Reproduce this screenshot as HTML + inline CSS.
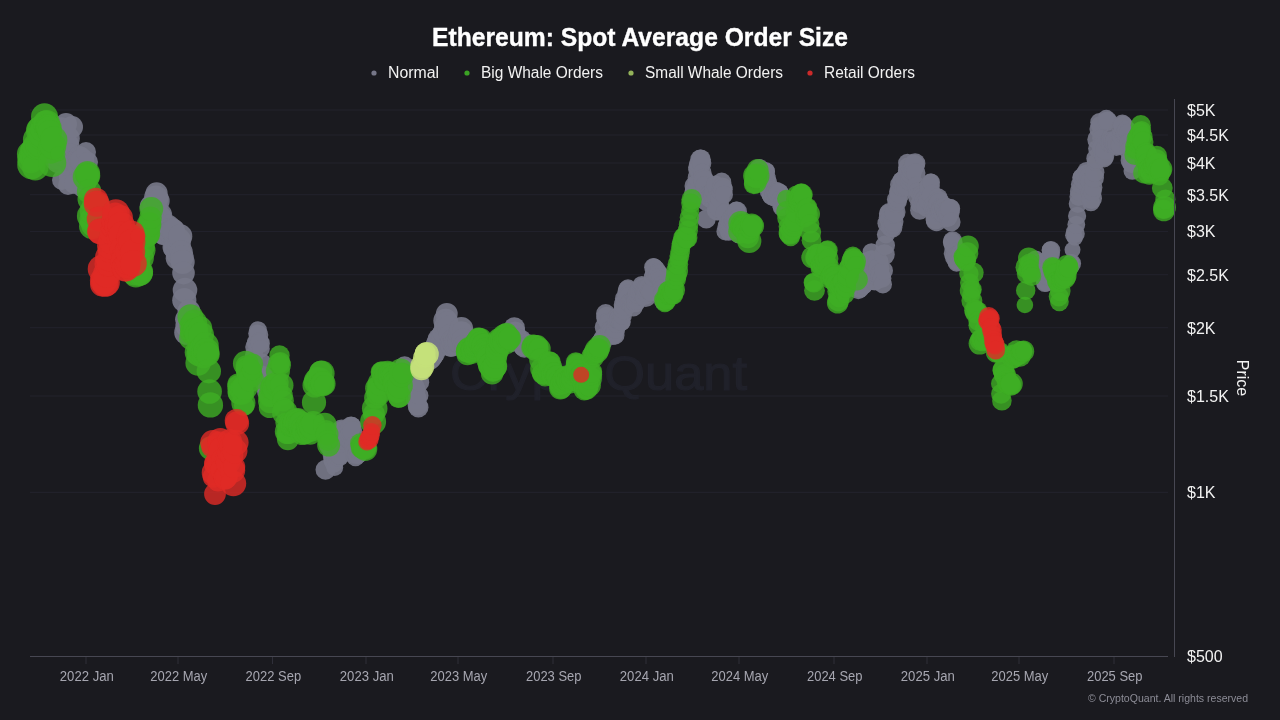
<!DOCTYPE html><html><head><meta charset="utf-8"><title>Ethereum: Spot Average Order Size</title>
<style>html,body{margin:0;padding:0;background:#1a1a1f;width:1280px;height:720px;overflow:hidden}svg{display:block}text{font-family:"Liberation Sans",sans-serif}</style></head><body>
<svg width="1280" height="720" viewBox="0 0 1280 720">
<rect width="1280" height="720" fill="#1a1a1f"/>
<line x1="30" x2="1168" y1="110.0" y2="110.0" stroke="#23232d" stroke-width="1"/>
<line x1="30" x2="1168" y1="135.0" y2="135.0" stroke="#23232d" stroke-width="1"/>
<line x1="30" x2="1168" y1="163.0" y2="163.0" stroke="#23232d" stroke-width="1"/>
<line x1="30" x2="1168" y1="194.7" y2="194.7" stroke="#23232d" stroke-width="1"/>
<line x1="30" x2="1168" y1="231.4" y2="231.4" stroke="#23232d" stroke-width="1"/>
<line x1="30" x2="1168" y1="274.7" y2="274.7" stroke="#23232d" stroke-width="1"/>
<line x1="30" x2="1168" y1="327.7" y2="327.7" stroke="#23232d" stroke-width="1"/>
<line x1="30" x2="1168" y1="396.0" y2="396.0" stroke="#23232d" stroke-width="1"/>
<line x1="30" x2="1168" y1="492.3" y2="492.3" stroke="#23232d" stroke-width="1"/>
<text x="450" y="390" font-size="49" fill="#20212a" stroke="#20212a" stroke-width="1.2" textLength="297" lengthAdjust="spacingAndGlyphs">CryptoQuant</text>
<g fill="#767788" fill-opacity="0.92">
<circle cx="54.5" cy="147.5" r="11.5"/>
<circle cx="55.3" cy="157.8" r="11.8"/>
<circle cx="56.1" cy="143.6" r="11.4"/>
<circle cx="56.8" cy="147.5" r="11.1"/>
<circle cx="57.6" cy="133.8" r="12.5"/>
<circle cx="58.4" cy="160.6" r="12.5"/>
<circle cx="59.1" cy="157.4" r="12.2"/>
<circle cx="59.9" cy="146.2" r="11.9"/>
<circle cx="60.7" cy="138.0" r="11.1"/>
<circle cx="61.4" cy="128.2" r="11.0"/>
<circle cx="62.2" cy="130.5" r="11.1"/>
<circle cx="63.0" cy="134.4" r="10.6"/>
<circle cx="63.7" cy="150.3" r="12.0"/>
<circle cx="64.5" cy="156.0" r="11.3"/>
<circle cx="65.3" cy="151.5" r="12.2"/>
<circle cx="66.0" cy="142.6" r="11.3"/>
<circle cx="66.8" cy="145.0" r="12.4"/>
<circle cx="67.6" cy="138.3" r="12.2"/>
<circle cx="68.3" cy="156.0" r="10.5"/>
<circle cx="69.1" cy="168.5" r="10.9"/>
<circle cx="69.9" cy="158.1" r="12.3"/>
<circle cx="70.6" cy="155.2" r="11.4"/>
<circle cx="71.4" cy="176.2" r="12.5"/>
<circle cx="72.2" cy="171.4" r="11.3"/>
<circle cx="72.9" cy="161.9" r="10.6"/>
<circle cx="73.7" cy="165.3" r="11.8"/>
<circle cx="74.5" cy="170.3" r="12.1"/>
<circle cx="75.3" cy="165.4" r="11.0"/>
<circle cx="76.0" cy="167.7" r="10.7"/>
<circle cx="76.8" cy="167.0" r="11.2"/>
<circle cx="77.6" cy="161.8" r="12.4"/>
<circle cx="78.3" cy="164.1" r="12.0"/>
<circle cx="79.1" cy="156.7" r="10.7"/>
<circle cx="79.9" cy="160.2" r="11.0"/>
<circle cx="80.6" cy="157.5" r="10.7"/>
<circle cx="81.4" cy="159.1" r="10.6"/>
<circle cx="82.2" cy="160.8" r="12.1"/>
<circle cx="82.9" cy="175.2" r="10.9"/>
<circle cx="83.7" cy="186.2" r="11.6"/>
<circle cx="84.5" cy="180.7" r="11.4"/>
<circle cx="85.2" cy="182.7" r="10.9"/>
<circle cx="152.0" cy="206.6" r="12.3"/>
<circle cx="152.8" cy="209.9" r="11.2"/>
<circle cx="153.6" cy="209.8" r="11.4"/>
<circle cx="154.3" cy="210.2" r="12.1"/>
<circle cx="155.1" cy="206.1" r="12.3"/>
<circle cx="155.9" cy="197.1" r="11.7"/>
<circle cx="156.6" cy="193.4" r="11.1"/>
<circle cx="157.4" cy="198.9" r="10.8"/>
<circle cx="158.2" cy="200.9" r="11.5"/>
<circle cx="158.9" cy="218.3" r="12.2"/>
<circle cx="159.7" cy="215.1" r="12.4"/>
<circle cx="160.5" cy="216.8" r="11.1"/>
<circle cx="161.2" cy="225.5" r="10.8"/>
<circle cx="162.0" cy="229.5" r="10.9"/>
<circle cx="162.8" cy="232.9" r="11.3"/>
<circle cx="163.5" cy="231.2" r="11.8"/>
<circle cx="164.3" cy="233.1" r="12.2"/>
<circle cx="165.1" cy="229.8" r="12.5"/>
<circle cx="165.8" cy="228.9" r="11.4"/>
<circle cx="166.6" cy="227.6" r="12.2"/>
<circle cx="167.4" cy="227.1" r="10.6"/>
<circle cx="168.1" cy="226.6" r="11.9"/>
<circle cx="168.9" cy="230.5" r="12.1"/>
<circle cx="169.7" cy="231.3" r="10.5"/>
<circle cx="170.4" cy="232.1" r="10.8"/>
<circle cx="171.2" cy="232.3" r="12.2"/>
<circle cx="172.0" cy="231.2" r="11.0"/>
<circle cx="172.8" cy="230.4" r="11.8"/>
<circle cx="173.5" cy="230.6" r="11.4"/>
<circle cx="174.3" cy="246.9" r="11.8"/>
<circle cx="175.1" cy="248.0" r="11.8"/>
<circle cx="175.8" cy="248.0" r="11.9"/>
<circle cx="176.6" cy="258.2" r="10.9"/>
<circle cx="177.4" cy="253.8" r="11.5"/>
<circle cx="178.1" cy="249.2" r="11.4"/>
<circle cx="178.9" cy="244.6" r="11.9"/>
<circle cx="179.7" cy="239.7" r="11.2"/>
<circle cx="180.4" cy="236.2" r="11.9"/>
<circle cx="181.2" cy="252.0" r="11.5"/>
<circle cx="182.0" cy="256.8" r="11.7"/>
<circle cx="182.7" cy="262.1" r="12.0"/>
<circle cx="183.5" cy="273.1" r="11.3"/>
<circle cx="184.3" cy="300.2" r="12.1"/>
<circle cx="185.0" cy="290.1" r="12.3"/>
<circle cx="185.8" cy="319.3" r="10.7"/>
<circle cx="186.6" cy="332.4" r="12.4"/>
<circle cx="187.3" cy="326.0" r="11.9"/>
<circle cx="188.1" cy="321.1" r="10.8"/>
<circle cx="188.9" cy="311.0" r="11.4"/>
<circle cx="189.6" cy="325.1" r="11.8"/>
<circle cx="253.4" cy="360.8" r="9.1"/>
<circle cx="254.1" cy="355.4" r="9.2"/>
<circle cx="254.9" cy="347.1" r="9.7"/>
<circle cx="255.7" cy="343.4" r="8.7"/>
<circle cx="256.4" cy="342.4" r="9.5"/>
<circle cx="257.2" cy="333.6" r="9.0"/>
<circle cx="258.0" cy="330.1" r="8.9"/>
<circle cx="258.7" cy="334.9" r="9.6"/>
<circle cx="259.5" cy="341.9" r="9.3"/>
<circle cx="260.3" cy="343.4" r="9.6"/>
<circle cx="261.0" cy="348.8" r="8.8"/>
<circle cx="261.8" cy="363.2" r="9.8"/>
<circle cx="262.6" cy="379.2" r="9.6"/>
<circle cx="263.3" cy="376.1" r="10.2"/>
<circle cx="264.1" cy="381.1" r="9.0"/>
<circle cx="264.9" cy="377.7" r="10.0"/>
<circle cx="265.6" cy="384.3" r="10.1"/>
<circle cx="266.4" cy="384.7" r="9.1"/>
<circle cx="267.2" cy="391.2" r="10.3"/>
<circle cx="267.9" cy="394.4" r="8.9"/>
<circle cx="325.5" cy="469.7" r="10.0"/>
<circle cx="329.4" cy="445.6" r="10.4"/>
<circle cx="330.1" cy="445.5" r="9.3"/>
<circle cx="330.9" cy="445.1" r="9.6"/>
<circle cx="331.7" cy="451.1" r="9.1"/>
<circle cx="332.4" cy="455.1" r="9.8"/>
<circle cx="333.2" cy="460.0" r="9.9"/>
<circle cx="334.0" cy="463.6" r="9.1"/>
<circle cx="334.7" cy="467.5" r="8.5"/>
<circle cx="335.5" cy="460.3" r="8.8"/>
<circle cx="336.3" cy="453.0" r="10.0"/>
<circle cx="337.0" cy="452.9" r="9.3"/>
<circle cx="337.8" cy="451.3" r="8.6"/>
<circle cx="338.6" cy="456.1" r="10.5"/>
<circle cx="339.3" cy="453.9" r="10.3"/>
<circle cx="340.1" cy="455.0" r="9.4"/>
<circle cx="340.9" cy="442.8" r="9.5"/>
<circle cx="341.6" cy="430.0" r="10.4"/>
<circle cx="342.4" cy="431.4" r="10.4"/>
<circle cx="343.2" cy="430.7" r="9.9"/>
<circle cx="343.9" cy="439.6" r="10.1"/>
<circle cx="344.7" cy="434.9" r="9.7"/>
<circle cx="345.5" cy="437.4" r="8.7"/>
<circle cx="346.3" cy="438.9" r="8.9"/>
<circle cx="347.0" cy="438.9" r="8.6"/>
<circle cx="347.8" cy="438.4" r="9.4"/>
<circle cx="348.6" cy="437.4" r="9.8"/>
<circle cx="349.3" cy="434.8" r="9.4"/>
<circle cx="350.1" cy="432.1" r="9.3"/>
<circle cx="350.9" cy="426.6" r="10.1"/>
<circle cx="351.6" cy="426.4" r="9.6"/>
<circle cx="352.4" cy="431.2" r="10.0"/>
<circle cx="353.2" cy="445.6" r="9.0"/>
<circle cx="353.9" cy="455.0" r="8.7"/>
<circle cx="354.7" cy="452.4" r="9.7"/>
<circle cx="355.5" cy="457.1" r="9.2"/>
<circle cx="356.2" cy="455.0" r="9.0"/>
<circle cx="357.0" cy="454.4" r="9.7"/>
<circle cx="357.8" cy="454.0" r="9.8"/>
<circle cx="358.5" cy="450.0" r="9.0"/>
<circle cx="359.3" cy="449.6" r="10.5"/>
<circle cx="366.2" cy="447.6" r="8.9"/>
<circle cx="403.1" cy="373.8" r="8.7"/>
<circle cx="403.8" cy="369.4" r="8.7"/>
<circle cx="404.6" cy="366.3" r="10.0"/>
<circle cx="405.4" cy="368.8" r="9.8"/>
<circle cx="406.1" cy="373.1" r="8.8"/>
<circle cx="406.9" cy="375.9" r="9.0"/>
<circle cx="407.7" cy="381.7" r="8.9"/>
<circle cx="408.4" cy="382.2" r="10.0"/>
<circle cx="409.2" cy="382.8" r="9.3"/>
<circle cx="410.0" cy="377.5" r="9.2"/>
<circle cx="410.7" cy="371.7" r="9.5"/>
<circle cx="411.5" cy="371.9" r="9.6"/>
<circle cx="412.3" cy="376.2" r="9.9"/>
<circle cx="413.0" cy="380.4" r="9.3"/>
<circle cx="413.8" cy="387.1" r="10.2"/>
<circle cx="414.6" cy="386.7" r="9.8"/>
<circle cx="415.3" cy="389.4" r="10.2"/>
<circle cx="416.1" cy="398.9" r="10.3"/>
<circle cx="416.9" cy="398.3" r="9.5"/>
<circle cx="417.6" cy="405.7" r="9.9"/>
<circle cx="418.4" cy="407.4" r="10.1"/>
<circle cx="419.2" cy="395.5" r="9.3"/>
<circle cx="419.9" cy="382.2" r="9.3"/>
<circle cx="420.7" cy="369.1" r="8.8"/>
<circle cx="427.6" cy="360.8" r="8.6"/>
<circle cx="428.4" cy="360.4" r="9.8"/>
<circle cx="429.2" cy="358.5" r="11.6"/>
<circle cx="429.9" cy="358.4" r="10.9"/>
<circle cx="430.7" cy="357.4" r="11.2"/>
<circle cx="431.5" cy="356.9" r="10.2"/>
<circle cx="432.2" cy="356.7" r="10.4"/>
<circle cx="433.0" cy="355.3" r="10.4"/>
<circle cx="433.8" cy="353.1" r="11.2"/>
<circle cx="434.5" cy="348.7" r="10.4"/>
<circle cx="435.3" cy="350.1" r="10.4"/>
<circle cx="436.1" cy="347.4" r="11.5"/>
<circle cx="436.8" cy="343.2" r="10.6"/>
<circle cx="437.6" cy="344.8" r="11.0"/>
<circle cx="438.4" cy="338.6" r="10.5"/>
<circle cx="439.1" cy="341.2" r="11.8"/>
<circle cx="439.9" cy="340.3" r="11.1"/>
<circle cx="440.7" cy="344.2" r="11.9"/>
<circle cx="441.4" cy="344.9" r="11.0"/>
<circle cx="442.2" cy="340.2" r="11.9"/>
<circle cx="443.0" cy="335.1" r="11.6"/>
<circle cx="443.7" cy="332.8" r="11.0"/>
<circle cx="444.5" cy="326.5" r="10.5"/>
<circle cx="445.3" cy="320.7" r="12.0"/>
<circle cx="446.1" cy="318.8" r="10.0"/>
<circle cx="446.8" cy="313.8" r="10.9"/>
<circle cx="447.6" cy="322.0" r="10.7"/>
<circle cx="448.4" cy="327.0" r="11.2"/>
<circle cx="449.1" cy="334.9" r="10.3"/>
<circle cx="449.9" cy="343.4" r="10.3"/>
<circle cx="450.7" cy="346.2" r="10.6"/>
<circle cx="451.4" cy="345.8" r="11.0"/>
<circle cx="452.2" cy="341.1" r="11.3"/>
<circle cx="453.0" cy="342.8" r="11.1"/>
<circle cx="453.7" cy="343.6" r="10.3"/>
<circle cx="454.5" cy="343.5" r="11.5"/>
<circle cx="455.3" cy="339.6" r="11.7"/>
<circle cx="456.0" cy="342.8" r="11.6"/>
<circle cx="456.8" cy="341.3" r="11.4"/>
<circle cx="457.6" cy="342.4" r="10.2"/>
<circle cx="458.3" cy="338.9" r="11.0"/>
<circle cx="459.1" cy="341.6" r="11.2"/>
<circle cx="459.9" cy="333.3" r="11.7"/>
<circle cx="460.6" cy="332.7" r="10.8"/>
<circle cx="461.4" cy="328.9" r="11.8"/>
<circle cx="462.2" cy="331.5" r="10.2"/>
<circle cx="462.9" cy="339.8" r="11.1"/>
<circle cx="463.7" cy="346.2" r="11.1"/>
<circle cx="464.5" cy="348.6" r="10.3"/>
<circle cx="465.2" cy="348.0" r="10.6"/>
<circle cx="510.5" cy="341.6" r="8.7"/>
<circle cx="511.3" cy="340.6" r="10.3"/>
<circle cx="512.1" cy="342.4" r="9.6"/>
<circle cx="512.8" cy="337.6" r="9.6"/>
<circle cx="513.6" cy="334.0" r="10.3"/>
<circle cx="514.4" cy="327.7" r="10.5"/>
<circle cx="515.1" cy="331.5" r="10.1"/>
<circle cx="515.9" cy="334.9" r="10.1"/>
<circle cx="516.7" cy="337.4" r="9.1"/>
<circle cx="517.4" cy="339.1" r="10.3"/>
<circle cx="518.2" cy="339.4" r="10.2"/>
<circle cx="519.0" cy="338.2" r="8.9"/>
<circle cx="519.8" cy="342.5" r="8.6"/>
<circle cx="520.5" cy="343.1" r="8.9"/>
<circle cx="521.3" cy="339.5" r="9.8"/>
<circle cx="522.1" cy="345.5" r="9.1"/>
<circle cx="522.8" cy="346.2" r="9.8"/>
<circle cx="523.6" cy="346.2" r="9.7"/>
<circle cx="524.4" cy="347.7" r="10.1"/>
<circle cx="525.1" cy="344.4" r="9.4"/>
<circle cx="525.9" cy="345.3" r="8.8"/>
<circle cx="526.7" cy="347.1" r="8.8"/>
<circle cx="527.4" cy="343.5" r="9.5"/>
<circle cx="528.2" cy="344.9" r="9.0"/>
<circle cx="529.0" cy="346.6" r="9.8"/>
<circle cx="529.7" cy="345.9" r="8.6"/>
<circle cx="530.5" cy="345.9" r="10.4"/>
<circle cx="531.3" cy="346.5" r="9.7"/>
<circle cx="600.4" cy="343.6" r="9.0"/>
<circle cx="601.1" cy="341.4" r="9.4"/>
<circle cx="601.9" cy="341.9" r="10.1"/>
<circle cx="602.7" cy="341.1" r="9.0"/>
<circle cx="603.4" cy="337.6" r="9.5"/>
<circle cx="604.2" cy="327.0" r="9.5"/>
<circle cx="605.0" cy="318.2" r="8.6"/>
<circle cx="605.7" cy="313.8" r="9.7"/>
<circle cx="606.5" cy="317.0" r="10.2"/>
<circle cx="607.3" cy="321.6" r="8.9"/>
<circle cx="608.0" cy="321.8" r="8.8"/>
<circle cx="608.8" cy="323.7" r="9.4"/>
<circle cx="609.6" cy="330.1" r="9.4"/>
<circle cx="610.3" cy="330.5" r="9.0"/>
<circle cx="611.1" cy="331.2" r="10.3"/>
<circle cx="611.9" cy="332.8" r="9.6"/>
<circle cx="612.6" cy="336.1" r="9.0"/>
<circle cx="613.4" cy="334.4" r="8.8"/>
<circle cx="614.2" cy="334.4" r="9.1"/>
<circle cx="614.9" cy="334.9" r="9.7"/>
<circle cx="615.7" cy="328.9" r="9.6"/>
<circle cx="616.5" cy="324.1" r="8.7"/>
<circle cx="617.2" cy="318.4" r="10.1"/>
<circle cx="618.0" cy="316.4" r="8.8"/>
<circle cx="618.8" cy="319.5" r="9.9"/>
<circle cx="619.6" cy="319.0" r="10.2"/>
<circle cx="620.3" cy="320.5" r="9.3"/>
<circle cx="621.1" cy="321.9" r="9.2"/>
<circle cx="621.9" cy="321.8" r="8.9"/>
<circle cx="622.6" cy="315.1" r="9.5"/>
<circle cx="623.4" cy="309.4" r="10.0"/>
<circle cx="624.2" cy="304.9" r="10.5"/>
<circle cx="624.9" cy="298.8" r="10.0"/>
<circle cx="625.7" cy="295.5" r="8.6"/>
<circle cx="626.5" cy="291.5" r="9.0"/>
<circle cx="627.2" cy="289.9" r="9.3"/>
<circle cx="628.0" cy="288.4" r="9.1"/>
<circle cx="628.8" cy="293.9" r="9.3"/>
<circle cx="629.5" cy="297.6" r="10.5"/>
<circle cx="630.3" cy="302.9" r="10.0"/>
<circle cx="631.1" cy="302.6" r="10.0"/>
<circle cx="631.8" cy="302.7" r="9.6"/>
<circle cx="632.6" cy="301.4" r="9.0"/>
<circle cx="633.4" cy="307.2" r="9.2"/>
<circle cx="634.1" cy="301.8" r="9.2"/>
<circle cx="634.9" cy="300.3" r="8.6"/>
<circle cx="635.7" cy="302.9" r="9.3"/>
<circle cx="636.4" cy="300.3" r="9.8"/>
<circle cx="637.2" cy="295.5" r="9.9"/>
<circle cx="638.0" cy="293.6" r="10.2"/>
<circle cx="638.7" cy="291.4" r="9.7"/>
<circle cx="639.5" cy="288.8" r="9.3"/>
<circle cx="640.3" cy="290.8" r="10.2"/>
<circle cx="641.0" cy="290.8" r="8.9"/>
<circle cx="641.8" cy="285.1" r="9.2"/>
<circle cx="642.6" cy="286.3" r="8.9"/>
<circle cx="643.4" cy="290.0" r="8.9"/>
<circle cx="644.1" cy="291.8" r="8.9"/>
<circle cx="644.9" cy="295.6" r="9.4"/>
<circle cx="645.7" cy="296.5" r="10.5"/>
<circle cx="646.4" cy="292.1" r="9.9"/>
<circle cx="647.2" cy="288.4" r="10.2"/>
<circle cx="648.0" cy="288.3" r="8.6"/>
<circle cx="648.7" cy="287.6" r="9.9"/>
<circle cx="649.5" cy="290.9" r="8.5"/>
<circle cx="650.3" cy="289.2" r="8.9"/>
<circle cx="651.0" cy="291.0" r="10.3"/>
<circle cx="651.8" cy="291.4" r="9.9"/>
<circle cx="652.6" cy="277.4" r="9.0"/>
<circle cx="653.3" cy="267.2" r="9.2"/>
<circle cx="654.1" cy="267.4" r="9.2"/>
<circle cx="654.9" cy="272.8" r="10.0"/>
<circle cx="655.6" cy="269.9" r="9.9"/>
<circle cx="656.4" cy="274.0" r="9.1"/>
<circle cx="657.2" cy="275.4" r="9.3"/>
<circle cx="657.9" cy="272.5" r="9.2"/>
<circle cx="658.7" cy="274.8" r="10.0"/>
<circle cx="659.5" cy="277.5" r="9.5"/>
<circle cx="660.2" cy="279.7" r="9.0"/>
<circle cx="661.0" cy="284.8" r="8.6"/>
<circle cx="661.8" cy="288.0" r="8.6"/>
<circle cx="662.5" cy="293.4" r="9.1"/>
<circle cx="663.3" cy="300.8" r="9.3"/>
<circle cx="692.5" cy="199.5" r="9.4"/>
<circle cx="693.3" cy="194.3" r="9.2"/>
<circle cx="694.0" cy="190.6" r="9.2"/>
<circle cx="694.8" cy="186.1" r="10.3"/>
<circle cx="695.6" cy="191.4" r="9.6"/>
<circle cx="696.3" cy="183.7" r="9.0"/>
<circle cx="697.1" cy="177.5" r="9.4"/>
<circle cx="697.9" cy="169.6" r="9.7"/>
<circle cx="698.6" cy="167.3" r="10.4"/>
<circle cx="699.4" cy="164.5" r="10.4"/>
<circle cx="700.2" cy="159.5" r="10.0"/>
<circle cx="700.9" cy="159.3" r="9.8"/>
<circle cx="701.7" cy="163.0" r="9.7"/>
<circle cx="702.5" cy="172.7" r="9.1"/>
<circle cx="703.2" cy="179.0" r="10.2"/>
<circle cx="704.0" cy="181.1" r="10.3"/>
<circle cx="704.8" cy="185.4" r="9.3"/>
<circle cx="705.5" cy="201.8" r="8.8"/>
<circle cx="706.3" cy="219.0" r="9.5"/>
<circle cx="707.1" cy="194.1" r="9.1"/>
<circle cx="707.8" cy="195.4" r="9.2"/>
<circle cx="708.6" cy="195.0" r="8.9"/>
<circle cx="709.4" cy="197.3" r="9.0"/>
<circle cx="710.1" cy="198.1" r="9.9"/>
<circle cx="710.9" cy="197.0" r="9.6"/>
<circle cx="711.7" cy="195.8" r="9.3"/>
<circle cx="712.4" cy="194.7" r="9.0"/>
<circle cx="713.2" cy="195.0" r="9.6"/>
<circle cx="714.0" cy="189.6" r="9.7"/>
<circle cx="714.7" cy="190.6" r="10.4"/>
<circle cx="715.5" cy="184.8" r="9.2"/>
<circle cx="716.3" cy="198.8" r="9.2"/>
<circle cx="717.0" cy="210.2" r="10.3"/>
<circle cx="717.8" cy="210.4" r="9.9"/>
<circle cx="718.6" cy="205.5" r="9.9"/>
<circle cx="719.4" cy="207.3" r="10.4"/>
<circle cx="720.1" cy="198.4" r="9.7"/>
<circle cx="720.9" cy="191.5" r="9.5"/>
<circle cx="721.7" cy="182.2" r="9.6"/>
<circle cx="722.4" cy="187.4" r="10.0"/>
<circle cx="723.2" cy="189.4" r="9.6"/>
<circle cx="724.0" cy="194.7" r="9.0"/>
<circle cx="724.7" cy="213.1" r="9.0"/>
<circle cx="725.5" cy="231.4" r="9.1"/>
<circle cx="726.3" cy="226.5" r="8.8"/>
<circle cx="727.0" cy="223.6" r="8.6"/>
<circle cx="727.8" cy="225.8" r="8.6"/>
<circle cx="728.6" cy="232.1" r="8.7"/>
<circle cx="729.3" cy="229.2" r="9.4"/>
<circle cx="730.1" cy="226.6" r="10.0"/>
<circle cx="730.9" cy="223.6" r="10.2"/>
<circle cx="731.6" cy="219.1" r="10.2"/>
<circle cx="732.4" cy="216.0" r="8.6"/>
<circle cx="733.2" cy="218.3" r="10.1"/>
<circle cx="733.9" cy="220.5" r="9.3"/>
<circle cx="734.7" cy="216.0" r="9.9"/>
<circle cx="735.5" cy="216.1" r="9.2"/>
<circle cx="736.2" cy="210.8" r="9.2"/>
<circle cx="737.0" cy="211.6" r="10.0"/>
<circle cx="737.8" cy="219.1" r="9.6"/>
<circle cx="738.5" cy="230.6" r="9.3"/>
<circle cx="739.3" cy="233.7" r="9.9"/>
<circle cx="758.5" cy="173.4" r="10.0"/>
<circle cx="759.3" cy="169.6" r="10.5"/>
<circle cx="760.0" cy="170.0" r="9.3"/>
<circle cx="760.8" cy="174.5" r="10.1"/>
<circle cx="761.6" cy="177.9" r="8.8"/>
<circle cx="762.3" cy="177.7" r="8.9"/>
<circle cx="763.1" cy="173.0" r="9.0"/>
<circle cx="763.9" cy="172.5" r="9.5"/>
<circle cx="764.6" cy="172.7" r="8.5"/>
<circle cx="765.4" cy="171.6" r="9.6"/>
<circle cx="766.2" cy="171.5" r="8.8"/>
<circle cx="766.9" cy="178.2" r="9.0"/>
<circle cx="767.7" cy="182.8" r="9.5"/>
<circle cx="768.5" cy="186.9" r="9.2"/>
<circle cx="769.3" cy="188.8" r="8.6"/>
<circle cx="770.0" cy="191.1" r="10.3"/>
<circle cx="770.8" cy="194.7" r="9.1"/>
<circle cx="771.6" cy="194.1" r="9.5"/>
<circle cx="772.3" cy="195.1" r="10.5"/>
<circle cx="773.1" cy="196.1" r="8.9"/>
<circle cx="773.9" cy="193.9" r="9.3"/>
<circle cx="774.6" cy="196.4" r="10.1"/>
<circle cx="775.4" cy="194.1" r="9.3"/>
<circle cx="776.2" cy="191.6" r="9.8"/>
<circle cx="776.9" cy="192.9" r="9.7"/>
<circle cx="777.7" cy="194.3" r="10.2"/>
<circle cx="778.5" cy="193.4" r="10.5"/>
<circle cx="779.2" cy="192.9" r="9.4"/>
<circle cx="780.0" cy="199.7" r="8.9"/>
<circle cx="780.8" cy="205.1" r="8.6"/>
<circle cx="781.5" cy="207.2" r="8.8"/>
<circle cx="782.3" cy="203.5" r="9.2"/>
<circle cx="783.1" cy="203.0" r="10.0"/>
<circle cx="783.8" cy="203.0" r="9.1"/>
<circle cx="784.6" cy="201.9" r="8.9"/>
<circle cx="785.4" cy="200.3" r="10.4"/>
<circle cx="857.5" cy="286.6" r="8.9"/>
<circle cx="858.3" cy="289.4" r="9.8"/>
<circle cx="859.1" cy="285.4" r="8.9"/>
<circle cx="859.8" cy="288.0" r="9.8"/>
<circle cx="860.6" cy="284.4" r="9.2"/>
<circle cx="861.4" cy="282.4" r="9.1"/>
<circle cx="862.1" cy="283.2" r="9.8"/>
<circle cx="862.9" cy="284.8" r="9.9"/>
<circle cx="863.7" cy="285.4" r="8.9"/>
<circle cx="864.4" cy="277.1" r="8.8"/>
<circle cx="865.2" cy="274.7" r="8.8"/>
<circle cx="866.0" cy="270.3" r="8.7"/>
<circle cx="866.8" cy="262.6" r="10.4"/>
<circle cx="867.5" cy="263.8" r="8.9"/>
<circle cx="868.3" cy="263.3" r="10.5"/>
<circle cx="869.1" cy="263.1" r="9.2"/>
<circle cx="869.8" cy="261.7" r="9.1"/>
<circle cx="870.6" cy="259.8" r="9.3"/>
<circle cx="871.4" cy="252.0" r="8.8"/>
<circle cx="872.1" cy="260.3" r="10.1"/>
<circle cx="872.9" cy="267.3" r="9.3"/>
<circle cx="873.7" cy="272.8" r="9.4"/>
<circle cx="874.4" cy="281.1" r="9.2"/>
<circle cx="875.2" cy="280.4" r="9.9"/>
<circle cx="876.0" cy="275.9" r="9.0"/>
<circle cx="876.7" cy="272.4" r="10.2"/>
<circle cx="877.5" cy="267.1" r="9.1"/>
<circle cx="878.3" cy="261.7" r="10.2"/>
<circle cx="879.0" cy="268.2" r="10.4"/>
<circle cx="879.8" cy="272.8" r="9.3"/>
<circle cx="880.6" cy="276.6" r="10.0"/>
<circle cx="881.3" cy="278.3" r="8.6"/>
<circle cx="882.1" cy="278.5" r="9.3"/>
<circle cx="882.9" cy="284.4" r="9.1"/>
<circle cx="883.6" cy="270.7" r="9.4"/>
<circle cx="884.4" cy="254.6" r="10.4"/>
<circle cx="885.2" cy="245.4" r="9.8"/>
<circle cx="885.9" cy="234.5" r="9.0"/>
<circle cx="886.7" cy="223.2" r="9.3"/>
<circle cx="887.5" cy="217.5" r="8.8"/>
<circle cx="888.2" cy="213.8" r="9.3"/>
<circle cx="889.0" cy="212.3" r="9.2"/>
<circle cx="889.8" cy="220.4" r="10.1"/>
<circle cx="890.5" cy="226.6" r="10.2"/>
<circle cx="891.3" cy="228.4" r="8.7"/>
<circle cx="892.1" cy="227.4" r="10.3"/>
<circle cx="892.9" cy="225.9" r="8.7"/>
<circle cx="893.6" cy="221.7" r="9.9"/>
<circle cx="894.4" cy="213.8" r="9.8"/>
<circle cx="895.2" cy="212.0" r="10.4"/>
<circle cx="895.9" cy="204.4" r="8.5"/>
<circle cx="896.7" cy="199.6" r="9.8"/>
<circle cx="897.5" cy="201.6" r="9.4"/>
<circle cx="898.2" cy="198.8" r="9.1"/>
<circle cx="899.0" cy="191.6" r="9.8"/>
<circle cx="899.8" cy="193.0" r="10.5"/>
<circle cx="900.5" cy="184.8" r="10.5"/>
<circle cx="901.3" cy="186.8" r="9.3"/>
<circle cx="902.1" cy="181.3" r="9.9"/>
<circle cx="902.8" cy="181.5" r="10.5"/>
<circle cx="903.6" cy="185.7" r="8.6"/>
<circle cx="904.4" cy="186.9" r="9.8"/>
<circle cx="905.1" cy="186.7" r="8.9"/>
<circle cx="905.9" cy="178.4" r="10.5"/>
<circle cx="906.7" cy="170.5" r="8.8"/>
<circle cx="907.4" cy="163.0" r="9.3"/>
<circle cx="908.2" cy="167.2" r="10.0"/>
<circle cx="909.0" cy="173.9" r="9.8"/>
<circle cx="909.7" cy="180.9" r="9.7"/>
<circle cx="910.5" cy="176.8" r="10.0"/>
<circle cx="911.3" cy="173.9" r="10.0"/>
<circle cx="912.0" cy="170.2" r="10.1"/>
<circle cx="912.8" cy="165.1" r="8.7"/>
<circle cx="913.6" cy="167.3" r="10.2"/>
<circle cx="914.3" cy="165.2" r="10.4"/>
<circle cx="915.1" cy="163.6" r="10.3"/>
<circle cx="915.9" cy="173.1" r="9.6"/>
<circle cx="916.7" cy="186.1" r="9.6"/>
<circle cx="917.4" cy="191.2" r="8.7"/>
<circle cx="918.2" cy="196.8" r="10.1"/>
<circle cx="919.0" cy="204.2" r="8.7"/>
<circle cx="919.7" cy="210.2" r="9.6"/>
<circle cx="920.5" cy="203.1" r="8.8"/>
<circle cx="921.3" cy="198.4" r="9.1"/>
<circle cx="922.0" cy="195.4" r="10.1"/>
<circle cx="922.8" cy="196.0" r="9.0"/>
<circle cx="923.6" cy="199.6" r="8.9"/>
<circle cx="924.3" cy="200.5" r="9.4"/>
<circle cx="925.1" cy="204.6" r="10.2"/>
<circle cx="925.9" cy="204.4" r="8.7"/>
<circle cx="926.6" cy="206.6" r="10.2"/>
<circle cx="927.4" cy="200.9" r="8.8"/>
<circle cx="928.2" cy="191.5" r="9.3"/>
<circle cx="928.9" cy="187.4" r="9.7"/>
<circle cx="929.7" cy="186.1" r="10.2"/>
<circle cx="930.5" cy="182.0" r="8.5"/>
<circle cx="931.2" cy="182.2" r="8.8"/>
<circle cx="932.0" cy="194.8" r="10.1"/>
<circle cx="932.8" cy="206.6" r="10.0"/>
<circle cx="933.5" cy="209.0" r="9.6"/>
<circle cx="934.3" cy="210.9" r="8.6"/>
<circle cx="935.1" cy="215.2" r="9.2"/>
<circle cx="935.8" cy="218.9" r="10.3"/>
<circle cx="936.6" cy="220.5" r="10.7"/>
<circle cx="937.4" cy="204.6" r="9.1"/>
<circle cx="938.1" cy="198.1" r="9.8"/>
<circle cx="938.9" cy="200.1" r="9.2"/>
<circle cx="939.7" cy="204.0" r="10.8"/>
<circle cx="940.5" cy="208.0" r="9.7"/>
<circle cx="941.2" cy="211.8" r="10.8"/>
<circle cx="942.0" cy="210.2" r="10.9"/>
<circle cx="942.8" cy="209.4" r="10.1"/>
<circle cx="943.5" cy="213.2" r="9.8"/>
<circle cx="944.3" cy="208.6" r="9.6"/>
<circle cx="945.1" cy="208.0" r="10.5"/>
<circle cx="945.8" cy="211.3" r="9.9"/>
<circle cx="946.6" cy="212.5" r="10.0"/>
<circle cx="947.4" cy="217.5" r="9.7"/>
<circle cx="948.1" cy="217.2" r="9.1"/>
<circle cx="948.9" cy="212.2" r="10.7"/>
<circle cx="949.7" cy="208.8" r="10.1"/>
<circle cx="950.4" cy="208.7" r="9.8"/>
<circle cx="951.2" cy="222.0" r="9.4"/>
<circle cx="952.0" cy="241.9" r="9.2"/>
<circle cx="952.7" cy="241.0" r="9.7"/>
<circle cx="953.5" cy="245.6" r="9.6"/>
<circle cx="954.3" cy="253.2" r="10.5"/>
<circle cx="955.0" cy="257.3" r="10.0"/>
<circle cx="955.8" cy="257.8" r="9.0"/>
<circle cx="956.6" cy="262.7" r="9.0"/>
<circle cx="957.3" cy="256.5" r="10.2"/>
<circle cx="958.1" cy="259.9" r="10.9"/>
<circle cx="958.9" cy="260.1" r="9.7"/>
<circle cx="959.6" cy="254.9" r="9.6"/>
<circle cx="960.4" cy="257.3" r="9.6"/>
<circle cx="961.2" cy="253.8" r="10.0"/>
<circle cx="961.9" cy="256.7" r="10.0"/>
<circle cx="1032.6" cy="273.6" r="8.2"/>
<circle cx="1033.3" cy="271.4" r="8.4"/>
<circle cx="1034.1" cy="266.4" r="8.4"/>
<circle cx="1034.9" cy="267.1" r="8.2"/>
<circle cx="1035.6" cy="259.9" r="9.3"/>
<circle cx="1036.4" cy="263.5" r="9.3"/>
<circle cx="1037.2" cy="268.5" r="9.1"/>
<circle cx="1037.9" cy="270.0" r="8.8"/>
<circle cx="1038.7" cy="269.6" r="9.0"/>
<circle cx="1039.5" cy="263.4" r="8.4"/>
<circle cx="1040.3" cy="266.1" r="8.1"/>
<circle cx="1041.0" cy="262.6" r="9.4"/>
<circle cx="1041.8" cy="269.4" r="8.4"/>
<circle cx="1042.6" cy="271.8" r="8.7"/>
<circle cx="1043.3" cy="271.6" r="8.6"/>
<circle cx="1044.1" cy="277.0" r="8.8"/>
<circle cx="1044.9" cy="283.3" r="8.8"/>
<circle cx="1045.6" cy="281.9" r="9.4"/>
<circle cx="1046.4" cy="283.4" r="8.2"/>
<circle cx="1047.2" cy="275.9" r="9.4"/>
<circle cx="1047.9" cy="271.2" r="9.4"/>
<circle cx="1048.7" cy="265.1" r="8.2"/>
<circle cx="1049.5" cy="258.1" r="8.8"/>
<circle cx="1050.2" cy="250.1" r="8.5"/>
<circle cx="1051.0" cy="250.3" r="9.3"/>
<circle cx="1051.8" cy="254.8" r="8.1"/>
<circle cx="1069.4" cy="267.6" r="8.9"/>
<circle cx="1070.2" cy="266.2" r="8.9"/>
<circle cx="1071.0" cy="263.3" r="8.8"/>
<circle cx="1071.7" cy="263.5" r="9.4"/>
<circle cx="1072.5" cy="249.8" r="8.0"/>
<circle cx="1073.3" cy="235.3" r="8.2"/>
<circle cx="1074.0" cy="231.6" r="8.0"/>
<circle cx="1074.8" cy="237.8" r="8.0"/>
<circle cx="1075.6" cy="233.7" r="9.2"/>
<circle cx="1076.3" cy="224.6" r="8.9"/>
<circle cx="1077.1" cy="215.9" r="9.1"/>
<circle cx="1077.9" cy="203.7" r="9.2"/>
<circle cx="1078.6" cy="196.8" r="9.2"/>
<circle cx="1079.4" cy="191.4" r="9.5"/>
<circle cx="1080.2" cy="184.5" r="9.3"/>
<circle cx="1080.9" cy="177.7" r="8.6"/>
<circle cx="1081.7" cy="179.4" r="8.0"/>
<circle cx="1082.5" cy="177.8" r="10.0"/>
<circle cx="1083.2" cy="180.3" r="9.6"/>
<circle cx="1084.0" cy="180.9" r="9.2"/>
<circle cx="1084.8" cy="175.0" r="9.8"/>
<circle cx="1085.5" cy="175.5" r="10.3"/>
<circle cx="1086.3" cy="170.9" r="8.9"/>
<circle cx="1087.1" cy="173.1" r="8.8"/>
<circle cx="1087.8" cy="176.2" r="10.1"/>
<circle cx="1088.6" cy="176.7" r="9.2"/>
<circle cx="1089.4" cy="181.5" r="9.0"/>
<circle cx="1090.2" cy="192.8" r="9.5"/>
<circle cx="1090.9" cy="202.3" r="9.0"/>
<circle cx="1091.7" cy="198.6" r="10.3"/>
<circle cx="1092.5" cy="191.8" r="9.1"/>
<circle cx="1093.2" cy="187.4" r="9.2"/>
<circle cx="1094.0" cy="177.8" r="10.0"/>
<circle cx="1094.8" cy="172.3" r="9.6"/>
<circle cx="1095.5" cy="162.4" r="8.7"/>
<circle cx="1096.3" cy="158.5" r="10.0"/>
<circle cx="1097.1" cy="148.6" r="9.0"/>
<circle cx="1097.8" cy="139.4" r="10.5"/>
<circle cx="1098.6" cy="129.1" r="9.2"/>
<circle cx="1099.4" cy="122.2" r="9.2"/>
<circle cx="1100.1" cy="125.3" r="9.3"/>
<circle cx="1100.9" cy="138.2" r="8.8"/>
<circle cx="1101.7" cy="146.3" r="10.1"/>
<circle cx="1102.4" cy="147.9" r="10.1"/>
<circle cx="1103.2" cy="155.0" r="9.3"/>
<circle cx="1104.0" cy="158.3" r="9.1"/>
<circle cx="1104.7" cy="156.6" r="9.5"/>
<circle cx="1105.5" cy="149.7" r="10.1"/>
<circle cx="1106.3" cy="118.2" r="8.5"/>
<circle cx="1107.0" cy="121.2" r="9.5"/>
<circle cx="1107.8" cy="120.7" r="9.3"/>
<circle cx="1108.6" cy="141.5" r="8.6"/>
<circle cx="1109.3" cy="140.8" r="8.9"/>
<circle cx="1110.1" cy="142.5" r="10.3"/>
<circle cx="1110.9" cy="138.0" r="9.2"/>
<circle cx="1111.6" cy="142.5" r="10.4"/>
<circle cx="1112.4" cy="142.8" r="8.8"/>
<circle cx="1113.2" cy="140.9" r="9.9"/>
<circle cx="1114.0" cy="140.6" r="8.8"/>
<circle cx="1114.7" cy="143.1" r="9.9"/>
<circle cx="1115.5" cy="141.3" r="10.4"/>
<circle cx="1116.3" cy="146.5" r="9.4"/>
<circle cx="1117.0" cy="145.3" r="9.2"/>
<circle cx="1117.8" cy="144.2" r="10.4"/>
<circle cx="1118.6" cy="144.2" r="8.6"/>
<circle cx="1119.3" cy="144.6" r="8.6"/>
<circle cx="1120.1" cy="145.3" r="9.1"/>
<circle cx="1120.9" cy="136.6" r="8.9"/>
<circle cx="1121.6" cy="129.6" r="9.6"/>
<circle cx="1122.4" cy="124.2" r="9.6"/>
<circle cx="1123.2" cy="125.8" r="10.0"/>
<circle cx="1123.9" cy="135.3" r="8.7"/>
<circle cx="1124.7" cy="134.0" r="8.9"/>
<circle cx="1125.5" cy="133.5" r="8.7"/>
<circle cx="1126.2" cy="132.7" r="10.3"/>
<circle cx="1127.0" cy="130.3" r="9.5"/>
<circle cx="1127.8" cy="132.6" r="8.8"/>
<circle cx="1128.5" cy="142.1" r="9.1"/>
<circle cx="1129.3" cy="144.0" r="10.1"/>
<circle cx="1130.1" cy="151.4" r="10.4"/>
<circle cx="1130.8" cy="160.4" r="10.2"/>
<circle cx="1131.6" cy="163.7" r="9.4"/>
<circle cx="1132.4" cy="170.9" r="8.9"/>
<circle cx="1133.1" cy="160.6" r="8.5"/>
<circle cx="1133.9" cy="162.0" r="10.0"/>
<circle cx="66.0" cy="124.0" r="11.0"/>
<circle cx="72.0" cy="127.0" r="11.0"/>
<circle cx="62.0" cy="180.0" r="10.0"/>
<circle cx="68.0" cy="185.0" r="10.0"/>
<circle cx="74.0" cy="184.0" r="10.0"/>
<circle cx="86.0" cy="152.0" r="10.0"/>
<circle cx="88.0" cy="162.0" r="10.0"/>
</g>
<g fill="#3fae24" fill-opacity="0.80">
<circle cx="30.0" cy="154.0" r="13.1"/>
<circle cx="30.7" cy="159.8" r="13.4"/>
<circle cx="31.5" cy="164.8" r="14.3"/>
<circle cx="32.3" cy="153.1" r="13.2"/>
<circle cx="33.0" cy="157.9" r="13.3"/>
<circle cx="33.8" cy="150.5" r="13.5"/>
<circle cx="34.6" cy="155.4" r="12.5"/>
<circle cx="35.3" cy="167.2" r="13.3"/>
<circle cx="36.1" cy="146.5" r="13.6"/>
<circle cx="36.9" cy="139.6" r="14.0"/>
<circle cx="37.6" cy="144.5" r="12.2"/>
<circle cx="38.4" cy="146.5" r="12.8"/>
<circle cx="39.2" cy="144.5" r="12.2"/>
<circle cx="39.9" cy="130.6" r="14.0"/>
<circle cx="40.7" cy="129.4" r="13.7"/>
<circle cx="41.5" cy="133.1" r="12.1"/>
<circle cx="42.2" cy="135.8" r="14.5"/>
<circle cx="43.0" cy="133.9" r="14.4"/>
<circle cx="43.8" cy="128.8" r="13.6"/>
<circle cx="44.5" cy="116.7" r="13.5"/>
<circle cx="45.3" cy="122.9" r="12.4"/>
<circle cx="46.1" cy="128.0" r="12.0"/>
<circle cx="46.8" cy="123.2" r="13.3"/>
<circle cx="47.6" cy="126.4" r="12.1"/>
<circle cx="48.4" cy="127.2" r="12.5"/>
<circle cx="49.2" cy="128.5" r="12.6"/>
<circle cx="49.9" cy="132.0" r="12.1"/>
<circle cx="50.7" cy="150.5" r="13.2"/>
<circle cx="51.5" cy="146.5" r="13.1"/>
<circle cx="52.2" cy="163.0" r="14.1"/>
<circle cx="53.0" cy="145.9" r="13.3"/>
<circle cx="53.8" cy="139.9" r="13.6"/>
<circle cx="86.0" cy="177.1" r="13.3"/>
<circle cx="86.8" cy="174.1" r="11.8"/>
<circle cx="87.5" cy="173.5" r="12.6"/>
<circle cx="88.3" cy="175.8" r="12.0"/>
<circle cx="89.1" cy="191.4" r="12.2"/>
<circle cx="89.8" cy="199.1" r="12.3"/>
<circle cx="90.6" cy="216.0" r="13.7"/>
<circle cx="91.4" cy="219.9" r="12.0"/>
<circle cx="92.1" cy="226.1" r="13.1"/>
<circle cx="92.9" cy="225.1" r="11.8"/>
<circle cx="93.7" cy="211.2" r="14.0"/>
<circle cx="94.4" cy="203.7" r="12.0"/>
<circle cx="95.2" cy="204.3" r="12.3"/>
<circle cx="97.5" cy="205.1" r="12.1"/>
<circle cx="98.3" cy="211.6" r="13.0"/>
<circle cx="134.4" cy="272.8" r="12.8"/>
<circle cx="135.1" cy="269.1" r="12.6"/>
<circle cx="135.9" cy="274.7" r="12.7"/>
<circle cx="136.7" cy="266.2" r="12.1"/>
<circle cx="137.4" cy="253.8" r="12.2"/>
<circle cx="138.2" cy="261.1" r="12.2"/>
<circle cx="139.0" cy="260.9" r="11.2"/>
<circle cx="139.7" cy="273.3" r="12.8"/>
<circle cx="140.5" cy="272.8" r="12.5"/>
<circle cx="141.3" cy="271.6" r="11.8"/>
<circle cx="142.0" cy="258.1" r="11.9"/>
<circle cx="142.8" cy="250.3" r="12.7"/>
<circle cx="143.6" cy="246.7" r="11.2"/>
<circle cx="144.3" cy="236.2" r="12.5"/>
<circle cx="145.1" cy="232.1" r="12.0"/>
<circle cx="145.9" cy="234.3" r="11.5"/>
<circle cx="146.6" cy="235.3" r="12.2"/>
<circle cx="147.4" cy="233.7" r="12.8"/>
<circle cx="148.2" cy="233.3" r="11.5"/>
<circle cx="149.0" cy="224.7" r="12.4"/>
<circle cx="149.7" cy="223.6" r="11.4"/>
<circle cx="150.5" cy="217.7" r="11.3"/>
<circle cx="151.3" cy="209.0" r="11.9"/>
<circle cx="190.4" cy="317.2" r="12.9"/>
<circle cx="191.2" cy="337.9" r="12.1"/>
<circle cx="191.9" cy="325.5" r="12.4"/>
<circle cx="192.7" cy="332.4" r="12.8"/>
<circle cx="193.5" cy="330.8" r="12.7"/>
<circle cx="194.2" cy="322.6" r="12.9"/>
<circle cx="195.0" cy="331.0" r="12.2"/>
<circle cx="195.8" cy="330.3" r="12.5"/>
<circle cx="196.5" cy="334.4" r="11.8"/>
<circle cx="197.3" cy="352.3" r="12.6"/>
<circle cx="198.1" cy="363.0" r="12.7"/>
<circle cx="198.9" cy="354.0" r="12.5"/>
<circle cx="199.6" cy="351.1" r="12.6"/>
<circle cx="200.4" cy="328.1" r="11.8"/>
<circle cx="201.2" cy="334.7" r="12.8"/>
<circle cx="201.9" cy="349.7" r="13.0"/>
<circle cx="202.7" cy="348.3" r="13.0"/>
<circle cx="203.5" cy="356.0" r="12.3"/>
<circle cx="204.2" cy="352.6" r="12.7"/>
<circle cx="205.0" cy="352.0" r="12.0"/>
<circle cx="205.8" cy="345.0" r="12.9"/>
<circle cx="206.5" cy="350.9" r="12.8"/>
<circle cx="207.3" cy="353.6" r="12.0"/>
<circle cx="208.1" cy="354.2" r="11.6"/>
<circle cx="208.8" cy="371.2" r="12.2"/>
<circle cx="209.6" cy="391.5" r="12.3"/>
<circle cx="210.4" cy="404.9" r="12.7"/>
<circle cx="211.1" cy="448.2" r="12.2"/>
<circle cx="238.0" cy="384.0" r="10.6"/>
<circle cx="238.8" cy="386.5" r="11.6"/>
<circle cx="239.5" cy="392.9" r="11.5"/>
<circle cx="240.3" cy="391.8" r="12.9"/>
<circle cx="241.1" cy="390.2" r="11.5"/>
<circle cx="241.8" cy="388.2" r="11.2"/>
<circle cx="242.6" cy="393.0" r="11.5"/>
<circle cx="243.4" cy="403.1" r="12.1"/>
<circle cx="244.1" cy="405.7" r="10.2"/>
<circle cx="244.9" cy="387.2" r="12.9"/>
<circle cx="245.7" cy="363.5" r="12.8"/>
<circle cx="246.4" cy="366.0" r="10.8"/>
<circle cx="247.2" cy="368.6" r="11.3"/>
<circle cx="248.0" cy="369.1" r="12.4"/>
<circle cx="248.8" cy="371.4" r="12.7"/>
<circle cx="249.5" cy="376.4" r="10.6"/>
<circle cx="250.3" cy="376.3" r="11.9"/>
<circle cx="251.1" cy="379.2" r="12.8"/>
<circle cx="251.8" cy="370.1" r="10.1"/>
<circle cx="252.6" cy="364.0" r="10.6"/>
<circle cx="268.7" cy="396.9" r="10.4"/>
<circle cx="269.5" cy="407.4" r="10.7"/>
<circle cx="270.2" cy="401.0" r="12.2"/>
<circle cx="271.0" cy="394.7" r="12.5"/>
<circle cx="271.8" cy="388.2" r="11.3"/>
<circle cx="272.6" cy="386.9" r="12.4"/>
<circle cx="273.3" cy="385.9" r="12.1"/>
<circle cx="274.1" cy="386.7" r="10.1"/>
<circle cx="274.9" cy="385.3" r="10.6"/>
<circle cx="275.6" cy="388.4" r="12.9"/>
<circle cx="276.4" cy="386.7" r="10.3"/>
<circle cx="277.2" cy="382.8" r="11.5"/>
<circle cx="277.9" cy="371.1" r="12.1"/>
<circle cx="278.7" cy="363.5" r="10.6"/>
<circle cx="279.5" cy="355.4" r="10.2"/>
<circle cx="280.2" cy="362.4" r="10.3"/>
<circle cx="281.0" cy="364.9" r="10.1"/>
<circle cx="281.8" cy="385.2" r="11.7"/>
<circle cx="282.5" cy="395.5" r="10.4"/>
<circle cx="283.3" cy="400.8" r="10.6"/>
<circle cx="284.1" cy="408.4" r="10.6"/>
<circle cx="284.8" cy="412.4" r="12.8"/>
<circle cx="285.6" cy="422.8" r="10.3"/>
<circle cx="286.4" cy="433.2" r="10.2"/>
<circle cx="287.1" cy="431.8" r="12.3"/>
<circle cx="287.9" cy="439.3" r="11.0"/>
<circle cx="288.7" cy="432.6" r="11.4"/>
<circle cx="289.4" cy="424.6" r="11.5"/>
<circle cx="290.2" cy="426.9" r="10.0"/>
<circle cx="291.0" cy="423.5" r="12.1"/>
<circle cx="291.7" cy="423.9" r="11.4"/>
<circle cx="292.5" cy="424.6" r="12.2"/>
<circle cx="293.3" cy="425.6" r="11.2"/>
<circle cx="294.0" cy="424.2" r="11.5"/>
<circle cx="294.8" cy="424.6" r="10.0"/>
<circle cx="295.6" cy="422.2" r="12.7"/>
<circle cx="296.3" cy="421.0" r="12.6"/>
<circle cx="297.1" cy="423.4" r="11.9"/>
<circle cx="297.9" cy="419.3" r="11.2"/>
<circle cx="298.7" cy="422.9" r="12.9"/>
<circle cx="299.4" cy="424.2" r="12.4"/>
<circle cx="300.2" cy="424.8" r="12.2"/>
<circle cx="301.0" cy="426.4" r="12.3"/>
<circle cx="301.7" cy="423.6" r="12.4"/>
<circle cx="302.5" cy="432.5" r="12.6"/>
<circle cx="303.3" cy="428.2" r="12.1"/>
<circle cx="304.0" cy="431.8" r="12.3"/>
<circle cx="304.8" cy="431.8" r="12.3"/>
<circle cx="305.6" cy="432.6" r="10.2"/>
<circle cx="306.3" cy="426.5" r="11.0"/>
<circle cx="307.1" cy="426.7" r="11.1"/>
<circle cx="307.9" cy="424.6" r="11.9"/>
<circle cx="308.6" cy="427.6" r="11.9"/>
<circle cx="309.4" cy="430.1" r="12.0"/>
<circle cx="310.2" cy="433.7" r="11.0"/>
<circle cx="310.9" cy="426.4" r="12.0"/>
<circle cx="311.7" cy="430.4" r="11.2"/>
<circle cx="312.5" cy="426.5" r="13.0"/>
<circle cx="313.2" cy="422.8" r="11.9"/>
<circle cx="314.0" cy="402.4" r="12.1"/>
<circle cx="314.8" cy="385.2" r="12.3"/>
<circle cx="315.5" cy="382.3" r="11.8"/>
<circle cx="316.3" cy="380.3" r="12.2"/>
<circle cx="317.1" cy="377.7" r="10.8"/>
<circle cx="317.8" cy="382.0" r="10.6"/>
<circle cx="318.6" cy="385.2" r="11.1"/>
<circle cx="319.4" cy="381.9" r="10.3"/>
<circle cx="320.1" cy="379.3" r="11.7"/>
<circle cx="320.9" cy="372.2" r="11.5"/>
<circle cx="321.7" cy="373.4" r="12.9"/>
<circle cx="322.5" cy="383.0" r="11.9"/>
<circle cx="323.2" cy="383.8" r="12.4"/>
<circle cx="324.0" cy="385.2" r="10.2"/>
<circle cx="324.8" cy="424.6" r="11.8"/>
<circle cx="326.3" cy="430.0" r="10.1"/>
<circle cx="327.1" cy="434.0" r="11.4"/>
<circle cx="327.8" cy="440.5" r="10.5"/>
<circle cx="328.6" cy="445.1" r="11.5"/>
<circle cx="360.1" cy="443.4" r="10.1"/>
<circle cx="360.8" cy="445.1" r="10.2"/>
<circle cx="361.6" cy="447.7" r="10.8"/>
<circle cx="362.4" cy="448.8" r="10.3"/>
<circle cx="363.1" cy="445.9" r="11.6"/>
<circle cx="363.9" cy="447.0" r="12.0"/>
<circle cx="364.7" cy="448.0" r="11.7"/>
<circle cx="365.4" cy="449.0" r="11.9"/>
<circle cx="373.1" cy="421.7" r="13.0"/>
<circle cx="373.9" cy="414.1" r="11.0"/>
<circle cx="374.7" cy="408.5" r="12.8"/>
<circle cx="375.4" cy="397.8" r="11.3"/>
<circle cx="376.2" cy="388.2" r="11.1"/>
<circle cx="377.0" cy="386.2" r="10.2"/>
<circle cx="377.7" cy="388.3" r="10.2"/>
<circle cx="378.5" cy="393.7" r="12.1"/>
<circle cx="379.3" cy="392.9" r="10.9"/>
<circle cx="380.0" cy="383.3" r="12.3"/>
<circle cx="380.8" cy="371.9" r="10.2"/>
<circle cx="381.6" cy="372.8" r="10.2"/>
<circle cx="382.3" cy="372.1" r="10.9"/>
<circle cx="383.1" cy="376.8" r="10.8"/>
<circle cx="383.9" cy="380.6" r="10.4"/>
<circle cx="384.6" cy="379.2" r="11.1"/>
<circle cx="385.4" cy="378.0" r="10.4"/>
<circle cx="386.2" cy="378.1" r="12.1"/>
<circle cx="386.9" cy="378.7" r="12.8"/>
<circle cx="387.7" cy="373.4" r="12.7"/>
<circle cx="388.5" cy="375.5" r="11.3"/>
<circle cx="389.2" cy="373.6" r="11.0"/>
<circle cx="390.0" cy="376.0" r="11.2"/>
<circle cx="390.8" cy="374.8" r="12.8"/>
<circle cx="391.5" cy="374.2" r="11.1"/>
<circle cx="392.3" cy="376.7" r="11.1"/>
<circle cx="393.1" cy="376.3" r="11.1"/>
<circle cx="393.8" cy="380.8" r="10.6"/>
<circle cx="394.6" cy="381.1" r="11.7"/>
<circle cx="395.4" cy="384.5" r="12.5"/>
<circle cx="396.2" cy="388.2" r="11.7"/>
<circle cx="396.9" cy="392.4" r="10.5"/>
<circle cx="397.7" cy="391.9" r="10.8"/>
<circle cx="398.5" cy="398.0" r="10.1"/>
<circle cx="399.2" cy="396.0" r="11.5"/>
<circle cx="400.0" cy="385.6" r="12.9"/>
<circle cx="400.8" cy="370.5" r="12.0"/>
<circle cx="401.5" cy="374.8" r="12.4"/>
<circle cx="402.3" cy="373.4" r="10.2"/>
<circle cx="466.0" cy="351.5" r="10.2"/>
<circle cx="466.8" cy="351.4" r="10.9"/>
<circle cx="467.5" cy="354.2" r="11.1"/>
<circle cx="468.3" cy="350.4" r="12.1"/>
<circle cx="469.1" cy="349.4" r="11.4"/>
<circle cx="469.9" cy="349.6" r="12.9"/>
<circle cx="470.6" cy="349.2" r="10.0"/>
<circle cx="471.4" cy="352.8" r="11.1"/>
<circle cx="472.2" cy="350.6" r="11.7"/>
<circle cx="472.9" cy="350.1" r="11.4"/>
<circle cx="473.7" cy="350.0" r="10.0"/>
<circle cx="474.5" cy="343.8" r="10.6"/>
<circle cx="475.2" cy="346.0" r="11.8"/>
<circle cx="476.0" cy="344.8" r="11.6"/>
<circle cx="476.8" cy="341.1" r="10.9"/>
<circle cx="477.5" cy="342.5" r="12.0"/>
<circle cx="478.3" cy="338.4" r="10.8"/>
<circle cx="479.1" cy="338.6" r="10.6"/>
<circle cx="479.8" cy="340.5" r="12.8"/>
<circle cx="480.6" cy="343.7" r="11.7"/>
<circle cx="481.4" cy="343.6" r="12.2"/>
<circle cx="482.1" cy="346.9" r="10.3"/>
<circle cx="482.9" cy="343.6" r="10.4"/>
<circle cx="483.7" cy="345.9" r="12.1"/>
<circle cx="484.4" cy="348.2" r="10.5"/>
<circle cx="485.2" cy="351.4" r="11.2"/>
<circle cx="486.0" cy="351.7" r="10.3"/>
<circle cx="486.7" cy="356.8" r="10.7"/>
<circle cx="487.5" cy="355.7" r="11.2"/>
<circle cx="488.3" cy="357.0" r="10.2"/>
<circle cx="489.0" cy="359.4" r="12.8"/>
<circle cx="489.8" cy="364.9" r="11.9"/>
<circle cx="490.6" cy="365.4" r="12.3"/>
<circle cx="491.3" cy="369.1" r="11.0"/>
<circle cx="492.1" cy="373.4" r="11.2"/>
<circle cx="492.9" cy="371.9" r="10.0"/>
<circle cx="493.6" cy="370.0" r="11.2"/>
<circle cx="494.4" cy="366.4" r="12.4"/>
<circle cx="495.2" cy="366.3" r="12.0"/>
<circle cx="496.0" cy="357.9" r="11.0"/>
<circle cx="496.7" cy="354.0" r="11.0"/>
<circle cx="497.5" cy="349.1" r="12.0"/>
<circle cx="498.3" cy="343.6" r="10.3"/>
<circle cx="499.0" cy="344.3" r="12.4"/>
<circle cx="499.8" cy="340.2" r="12.5"/>
<circle cx="500.6" cy="341.7" r="12.3"/>
<circle cx="501.3" cy="340.6" r="12.7"/>
<circle cx="502.1" cy="340.6" r="11.5"/>
<circle cx="502.9" cy="338.5" r="10.4"/>
<circle cx="503.6" cy="338.3" r="11.5"/>
<circle cx="504.4" cy="336.1" r="12.1"/>
<circle cx="505.2" cy="342.1" r="12.5"/>
<circle cx="505.9" cy="335.6" r="11.9"/>
<circle cx="506.7" cy="333.3" r="10.6"/>
<circle cx="507.5" cy="336.9" r="11.7"/>
<circle cx="508.2" cy="338.6" r="12.1"/>
<circle cx="509.0" cy="338.7" r="11.0"/>
<circle cx="509.8" cy="338.5" r="11.4"/>
<circle cx="532.0" cy="347.6" r="10.7"/>
<circle cx="532.8" cy="345.5" r="10.9"/>
<circle cx="533.6" cy="345.9" r="10.5"/>
<circle cx="534.3" cy="346.2" r="11.5"/>
<circle cx="535.1" cy="349.7" r="11.2"/>
<circle cx="535.9" cy="345.7" r="10.4"/>
<circle cx="536.6" cy="348.8" r="10.6"/>
<circle cx="537.4" cy="345.7" r="10.6"/>
<circle cx="538.2" cy="349.3" r="10.4"/>
<circle cx="538.9" cy="347.0" r="9.6"/>
<circle cx="539.7" cy="348.8" r="11.0"/>
<circle cx="540.5" cy="359.9" r="11.3"/>
<circle cx="541.2" cy="369.1" r="11.0"/>
<circle cx="542.0" cy="373.1" r="10.1"/>
<circle cx="542.8" cy="373.8" r="10.7"/>
<circle cx="543.5" cy="372.5" r="10.4"/>
<circle cx="544.3" cy="374.4" r="10.5"/>
<circle cx="545.1" cy="376.3" r="10.3"/>
<circle cx="545.9" cy="371.5" r="10.6"/>
<circle cx="546.6" cy="371.3" r="10.0"/>
<circle cx="547.4" cy="370.9" r="10.0"/>
<circle cx="548.2" cy="366.4" r="9.6"/>
<circle cx="548.9" cy="362.0" r="10.8"/>
<circle cx="549.7" cy="366.8" r="11.2"/>
<circle cx="550.5" cy="362.1" r="10.3"/>
<circle cx="551.2" cy="367.3" r="11.0"/>
<circle cx="552.0" cy="373.4" r="10.6"/>
<circle cx="552.8" cy="375.2" r="11.3"/>
<circle cx="553.5" cy="371.8" r="9.7"/>
<circle cx="554.3" cy="373.2" r="10.6"/>
<circle cx="555.1" cy="375.6" r="10.0"/>
<circle cx="555.8" cy="376.3" r="10.1"/>
<circle cx="556.6" cy="378.3" r="10.1"/>
<circle cx="557.4" cy="376.5" r="11.1"/>
<circle cx="558.1" cy="380.7" r="10.3"/>
<circle cx="558.9" cy="385.8" r="9.6"/>
<circle cx="559.7" cy="384.3" r="9.6"/>
<circle cx="560.4" cy="388.2" r="11.3"/>
<circle cx="561.2" cy="387.3" r="11.4"/>
<circle cx="562.0" cy="382.6" r="11.5"/>
<circle cx="562.7" cy="384.3" r="10.1"/>
<circle cx="563.5" cy="381.0" r="11.3"/>
<circle cx="564.3" cy="378.5" r="11.2"/>
<circle cx="565.0" cy="377.7" r="10.2"/>
<circle cx="565.8" cy="379.0" r="10.4"/>
<circle cx="566.6" cy="377.0" r="11.5"/>
<circle cx="567.3" cy="375.9" r="9.9"/>
<circle cx="568.1" cy="380.8" r="11.3"/>
<circle cx="568.9" cy="381.4" r="9.6"/>
<circle cx="569.7" cy="378.7" r="10.1"/>
<circle cx="570.4" cy="379.7" r="11.3"/>
<circle cx="571.2" cy="382.2" r="11.2"/>
<circle cx="572.0" cy="380.1" r="10.9"/>
<circle cx="572.7" cy="378.5" r="11.4"/>
<circle cx="573.5" cy="375.9" r="9.9"/>
<circle cx="574.3" cy="372.6" r="10.1"/>
<circle cx="575.0" cy="370.5" r="10.9"/>
<circle cx="575.8" cy="362.1" r="9.9"/>
<circle cx="576.6" cy="364.1" r="10.8"/>
<circle cx="577.3" cy="365.9" r="11.1"/>
<circle cx="578.1" cy="371.7" r="11.3"/>
<circle cx="578.9" cy="370.3" r="10.7"/>
<circle cx="579.6" cy="374.8" r="10.0"/>
<circle cx="580.4" cy="376.2" r="10.8"/>
<circle cx="581.9" cy="374.1" r="10.8"/>
<circle cx="582.7" cy="377.1" r="10.4"/>
<circle cx="583.5" cy="385.2" r="10.6"/>
<circle cx="584.2" cy="389.8" r="10.6"/>
<circle cx="585.0" cy="386.2" r="9.6"/>
<circle cx="585.8" cy="389.7" r="10.0"/>
<circle cx="586.5" cy="388.7" r="11.1"/>
<circle cx="587.3" cy="385.8" r="11.0"/>
<circle cx="588.1" cy="385.7" r="10.0"/>
<circle cx="588.8" cy="386.3" r="9.9"/>
<circle cx="589.6" cy="385.2" r="11.3"/>
<circle cx="590.4" cy="378.4" r="11.5"/>
<circle cx="591.1" cy="374.3" r="11.0"/>
<circle cx="591.9" cy="371.9" r="10.3"/>
<circle cx="592.7" cy="356.7" r="11.4"/>
<circle cx="593.4" cy="354.9" r="10.5"/>
<circle cx="594.2" cy="353.0" r="10.8"/>
<circle cx="595.0" cy="352.7" r="10.2"/>
<circle cx="595.8" cy="349.4" r="10.8"/>
<circle cx="596.5" cy="350.1" r="10.5"/>
<circle cx="597.3" cy="351.7" r="11.2"/>
<circle cx="598.1" cy="349.3" r="11.4"/>
<circle cx="598.8" cy="349.4" r="9.8"/>
<circle cx="599.6" cy="346.2" r="11.1"/>
<circle cx="664.1" cy="299.7" r="10.1"/>
<circle cx="664.8" cy="302.9" r="9.3"/>
<circle cx="665.6" cy="300.8" r="10.5"/>
<circle cx="666.4" cy="299.3" r="10.3"/>
<circle cx="667.1" cy="294.6" r="9.6"/>
<circle cx="667.9" cy="291.8" r="10.4"/>
<circle cx="668.7" cy="290.4" r="9.8"/>
<circle cx="669.5" cy="295.3" r="9.5"/>
<circle cx="670.2" cy="294.5" r="9.6"/>
<circle cx="671.0" cy="292.0" r="9.7"/>
<circle cx="671.8" cy="294.4" r="9.0"/>
<circle cx="672.5" cy="293.9" r="10.3"/>
<circle cx="673.3" cy="294.5" r="10.1"/>
<circle cx="674.1" cy="287.9" r="9.6"/>
<circle cx="674.8" cy="289.9" r="10.3"/>
<circle cx="675.6" cy="279.2" r="10.4"/>
<circle cx="676.4" cy="275.6" r="10.3"/>
<circle cx="677.1" cy="271.0" r="10.9"/>
<circle cx="677.9" cy="264.2" r="10.3"/>
<circle cx="678.7" cy="259.9" r="9.2"/>
<circle cx="679.4" cy="256.3" r="9.9"/>
<circle cx="680.2" cy="251.2" r="9.8"/>
<circle cx="681.0" cy="246.1" r="9.7"/>
<circle cx="681.7" cy="243.2" r="10.0"/>
<circle cx="682.5" cy="241.3" r="9.8"/>
<circle cx="683.3" cy="237.5" r="10.0"/>
<circle cx="684.0" cy="236.2" r="9.3"/>
<circle cx="684.8" cy="237.3" r="9.2"/>
<circle cx="685.6" cy="238.2" r="9.7"/>
<circle cx="686.3" cy="238.3" r="10.2"/>
<circle cx="687.1" cy="237.8" r="10.4"/>
<circle cx="687.9" cy="230.5" r="10.1"/>
<circle cx="688.6" cy="224.4" r="9.8"/>
<circle cx="689.4" cy="217.5" r="9.7"/>
<circle cx="690.2" cy="210.7" r="9.1"/>
<circle cx="690.9" cy="203.0" r="9.8"/>
<circle cx="691.7" cy="199.2" r="10.2"/>
<circle cx="740.1" cy="231.6" r="11.9"/>
<circle cx="740.8" cy="223.6" r="12.5"/>
<circle cx="741.6" cy="224.3" r="11.1"/>
<circle cx="742.4" cy="226.6" r="12.0"/>
<circle cx="743.2" cy="226.6" r="10.7"/>
<circle cx="743.9" cy="227.0" r="11.8"/>
<circle cx="744.7" cy="227.4" r="12.8"/>
<circle cx="745.5" cy="228.2" r="12.9"/>
<circle cx="746.2" cy="229.2" r="11.3"/>
<circle cx="747.0" cy="231.9" r="11.9"/>
<circle cx="747.8" cy="237.0" r="11.2"/>
<circle cx="748.5" cy="233.8" r="10.1"/>
<circle cx="749.3" cy="241.0" r="12.1"/>
<circle cx="750.1" cy="229.0" r="10.4"/>
<circle cx="750.8" cy="229.0" r="10.1"/>
<circle cx="751.6" cy="224.3" r="10.9"/>
<circle cx="752.4" cy="225.8" r="10.4"/>
<circle cx="753.1" cy="225.9" r="11.0"/>
<circle cx="753.9" cy="184.1" r="10.1"/>
<circle cx="754.7" cy="175.8" r="11.6"/>
<circle cx="755.4" cy="182.1" r="11.4"/>
<circle cx="756.2" cy="176.4" r="11.1"/>
<circle cx="757.0" cy="176.0" r="12.5"/>
<circle cx="757.7" cy="169.9" r="10.9"/>
<circle cx="786.1" cy="198.8" r="9.0"/>
<circle cx="786.9" cy="211.5" r="10.6"/>
<circle cx="787.7" cy="218.0" r="10.5"/>
<circle cx="788.4" cy="226.6" r="9.8"/>
<circle cx="789.2" cy="232.9" r="10.6"/>
<circle cx="790.0" cy="233.4" r="11.0"/>
<circle cx="790.7" cy="237.0" r="9.2"/>
<circle cx="791.5" cy="229.8" r="10.9"/>
<circle cx="792.3" cy="230.5" r="9.8"/>
<circle cx="793.1" cy="225.9" r="10.8"/>
<circle cx="793.8" cy="224.8" r="9.0"/>
<circle cx="794.6" cy="221.3" r="10.2"/>
<circle cx="795.4" cy="212.6" r="9.7"/>
<circle cx="796.1" cy="202.6" r="10.3"/>
<circle cx="796.9" cy="196.1" r="10.6"/>
<circle cx="797.7" cy="201.0" r="9.7"/>
<circle cx="798.4" cy="202.3" r="9.6"/>
<circle cx="799.2" cy="197.9" r="10.8"/>
<circle cx="800.0" cy="197.9" r="9.7"/>
<circle cx="800.7" cy="194.3" r="10.5"/>
<circle cx="801.5" cy="192.7" r="9.4"/>
<circle cx="802.3" cy="194.5" r="10.4"/>
<circle cx="803.0" cy="196.1" r="9.4"/>
<circle cx="803.8" cy="209.6" r="9.2"/>
<circle cx="804.6" cy="218.3" r="9.3"/>
<circle cx="805.3" cy="216.5" r="9.0"/>
<circle cx="806.1" cy="212.3" r="10.0"/>
<circle cx="806.9" cy="208.2" r="9.8"/>
<circle cx="807.6" cy="207.3" r="9.6"/>
<circle cx="808.4" cy="215.1" r="9.4"/>
<circle cx="809.2" cy="213.8" r="10.8"/>
<circle cx="809.9" cy="224.1" r="9.6"/>
<circle cx="810.7" cy="232.1" r="10.5"/>
<circle cx="811.5" cy="240.3" r="9.9"/>
<circle cx="812.2" cy="257.3" r="10.9"/>
<circle cx="813.0" cy="282.4" r="9.4"/>
<circle cx="813.8" cy="282.8" r="9.8"/>
<circle cx="814.5" cy="290.4" r="10.4"/>
<circle cx="815.3" cy="258.1" r="9.4"/>
<circle cx="816.1" cy="257.7" r="10.9"/>
<circle cx="816.9" cy="253.6" r="9.6"/>
<circle cx="817.6" cy="254.8" r="11.0"/>
<circle cx="818.4" cy="254.6" r="9.3"/>
<circle cx="819.2" cy="257.5" r="10.3"/>
<circle cx="819.9" cy="265.6" r="9.4"/>
<circle cx="820.7" cy="268.1" r="10.2"/>
<circle cx="821.5" cy="264.6" r="10.8"/>
<circle cx="822.2" cy="263.3" r="10.0"/>
<circle cx="823.0" cy="265.4" r="10.1"/>
<circle cx="823.8" cy="261.7" r="9.2"/>
<circle cx="824.5" cy="257.6" r="9.9"/>
<circle cx="825.3" cy="258.9" r="10.3"/>
<circle cx="826.1" cy="255.4" r="9.5"/>
<circle cx="826.8" cy="251.2" r="10.2"/>
<circle cx="827.6" cy="250.3" r="10.1"/>
<circle cx="828.4" cy="258.8" r="10.0"/>
<circle cx="829.1" cy="266.5" r="9.9"/>
<circle cx="829.9" cy="278.5" r="10.2"/>
<circle cx="830.7" cy="276.8" r="10.2"/>
<circle cx="831.4" cy="275.1" r="9.9"/>
<circle cx="832.2" cy="275.4" r="11.0"/>
<circle cx="833.0" cy="273.7" r="10.5"/>
<circle cx="833.7" cy="277.5" r="11.0"/>
<circle cx="834.5" cy="276.0" r="9.8"/>
<circle cx="835.3" cy="281.4" r="10.7"/>
<circle cx="836.0" cy="284.5" r="10.0"/>
<circle cx="836.8" cy="291.6" r="9.5"/>
<circle cx="837.6" cy="302.9" r="10.7"/>
<circle cx="838.3" cy="300.7" r="10.7"/>
<circle cx="839.1" cy="296.8" r="10.6"/>
<circle cx="839.9" cy="288.4" r="10.0"/>
<circle cx="840.6" cy="285.7" r="10.7"/>
<circle cx="841.4" cy="284.4" r="10.4"/>
<circle cx="842.2" cy="282.4" r="9.9"/>
<circle cx="843.0" cy="280.4" r="10.1"/>
<circle cx="843.7" cy="281.7" r="10.7"/>
<circle cx="844.5" cy="289.3" r="10.3"/>
<circle cx="845.3" cy="294.5" r="9.1"/>
<circle cx="846.0" cy="287.4" r="10.1"/>
<circle cx="846.8" cy="282.7" r="9.5"/>
<circle cx="847.6" cy="277.5" r="10.6"/>
<circle cx="848.3" cy="275.5" r="10.7"/>
<circle cx="849.1" cy="268.9" r="10.8"/>
<circle cx="849.9" cy="267.4" r="10.6"/>
<circle cx="850.6" cy="260.8" r="9.3"/>
<circle cx="851.4" cy="260.5" r="9.1"/>
<circle cx="852.2" cy="258.4" r="9.7"/>
<circle cx="852.9" cy="255.8" r="9.2"/>
<circle cx="853.7" cy="257.3" r="9.4"/>
<circle cx="854.5" cy="262.7" r="9.8"/>
<circle cx="855.2" cy="261.1" r="10.8"/>
<circle cx="856.0" cy="265.3" r="9.1"/>
<circle cx="856.8" cy="279.5" r="11.0"/>
<circle cx="962.7" cy="256.4" r="9.2"/>
<circle cx="963.5" cy="258.3" r="9.5"/>
<circle cx="964.2" cy="259.0" r="9.5"/>
<circle cx="965.0" cy="258.8" r="10.7"/>
<circle cx="965.8" cy="261.5" r="9.8"/>
<circle cx="966.6" cy="259.9" r="9.6"/>
<circle cx="967.3" cy="253.3" r="11.0"/>
<circle cx="968.1" cy="246.1" r="10.7"/>
<circle cx="968.9" cy="273.7" r="9.7"/>
<circle cx="969.6" cy="282.8" r="9.6"/>
<circle cx="970.4" cy="290.4" r="10.6"/>
<circle cx="971.2" cy="294.9" r="9.1"/>
<circle cx="971.9" cy="300.8" r="10.5"/>
<circle cx="972.7" cy="289.4" r="9.1"/>
<circle cx="973.5" cy="272.8" r="10.2"/>
<circle cx="974.2" cy="310.5" r="10.1"/>
<circle cx="975.0" cy="308.3" r="9.0"/>
<circle cx="975.8" cy="312.2" r="10.9"/>
<circle cx="976.5" cy="311.3" r="9.0"/>
<circle cx="977.3" cy="311.6" r="10.5"/>
<circle cx="978.1" cy="321.0" r="9.8"/>
<circle cx="978.8" cy="325.3" r="10.4"/>
<circle cx="979.6" cy="343.6" r="11.0"/>
<circle cx="980.4" cy="340.5" r="10.6"/>
<circle cx="981.1" cy="338.6" r="9.9"/>
<circle cx="981.9" cy="339.6" r="10.5"/>
<circle cx="982.7" cy="341.4" r="9.9"/>
<circle cx="983.4" cy="339.0" r="9.2"/>
<circle cx="984.2" cy="341.1" r="9.6"/>
<circle cx="985.0" cy="334.4" r="9.2"/>
<circle cx="985.7" cy="328.2" r="10.7"/>
<circle cx="986.5" cy="320.7" r="10.3"/>
<circle cx="996.5" cy="352.4" r="10.6"/>
<circle cx="997.3" cy="352.7" r="9.2"/>
<circle cx="998.0" cy="352.3" r="10.2"/>
<circle cx="998.8" cy="353.0" r="9.4"/>
<circle cx="999.6" cy="351.4" r="9.7"/>
<circle cx="1000.3" cy="383.7" r="9.3"/>
<circle cx="1001.1" cy="393.7" r="10.0"/>
<circle cx="1001.9" cy="400.8" r="9.8"/>
<circle cx="1002.6" cy="370.5" r="10.1"/>
<circle cx="1003.4" cy="369.9" r="10.7"/>
<circle cx="1004.2" cy="375.0" r="10.0"/>
<circle cx="1004.9" cy="374.8" r="11.0"/>
<circle cx="1005.7" cy="375.1" r="9.7"/>
<circle cx="1006.5" cy="379.7" r="9.5"/>
<circle cx="1007.2" cy="382.8" r="10.5"/>
<circle cx="1008.0" cy="383.7" r="10.1"/>
<circle cx="1008.8" cy="383.7" r="10.6"/>
<circle cx="1009.5" cy="383.0" r="9.8"/>
<circle cx="1010.3" cy="384.1" r="10.2"/>
<circle cx="1011.1" cy="385.7" r="10.1"/>
<circle cx="1011.8" cy="383.7" r="11.0"/>
<circle cx="1012.6" cy="358.0" r="10.8"/>
<circle cx="1013.4" cy="358.8" r="9.5"/>
<circle cx="1014.1" cy="354.8" r="10.5"/>
<circle cx="1014.9" cy="354.0" r="9.2"/>
<circle cx="1015.7" cy="355.3" r="9.1"/>
<circle cx="1016.5" cy="350.6" r="10.4"/>
<circle cx="1017.2" cy="356.2" r="9.7"/>
<circle cx="1018.0" cy="355.0" r="9.3"/>
<circle cx="1018.8" cy="354.0" r="10.9"/>
<circle cx="1019.5" cy="353.0" r="9.2"/>
<circle cx="1020.3" cy="356.1" r="10.6"/>
<circle cx="1021.1" cy="351.8" r="10.1"/>
<circle cx="1021.8" cy="351.4" r="10.2"/>
<circle cx="1022.6" cy="350.1" r="9.2"/>
<circle cx="1023.4" cy="351.2" r="10.8"/>
<circle cx="1024.1" cy="351.4" r="8.5"/>
<circle cx="1024.9" cy="305.0" r="8.3"/>
<circle cx="1025.7" cy="290.4" r="9.7"/>
<circle cx="1026.4" cy="267.2" r="10.9"/>
<circle cx="1027.2" cy="273.7" r="10.4"/>
<circle cx="1028.0" cy="268.4" r="9.6"/>
<circle cx="1028.7" cy="258.1" r="10.7"/>
<circle cx="1029.5" cy="263.0" r="9.5"/>
<circle cx="1030.3" cy="268.8" r="9.0"/>
<circle cx="1031.0" cy="273.4" r="9.6"/>
<circle cx="1031.8" cy="276.6" r="9.5"/>
<circle cx="1052.5" cy="267.2" r="10.3"/>
<circle cx="1053.3" cy="268.4" r="10.1"/>
<circle cx="1054.1" cy="270.3" r="11.0"/>
<circle cx="1054.8" cy="273.6" r="10.6"/>
<circle cx="1055.6" cy="273.7" r="10.0"/>
<circle cx="1056.4" cy="280.4" r="9.2"/>
<circle cx="1057.1" cy="281.4" r="10.1"/>
<circle cx="1057.9" cy="283.4" r="9.7"/>
<circle cx="1058.7" cy="296.5" r="10.0"/>
<circle cx="1059.4" cy="301.8" r="9.4"/>
<circle cx="1060.2" cy="290.8" r="10.4"/>
<circle cx="1061.0" cy="279.5" r="9.8"/>
<circle cx="1061.7" cy="279.6" r="10.0"/>
<circle cx="1062.5" cy="278.1" r="10.1"/>
<circle cx="1063.3" cy="275.1" r="9.3"/>
<circle cx="1064.0" cy="277.3" r="9.6"/>
<circle cx="1064.8" cy="277.8" r="10.9"/>
<circle cx="1065.6" cy="275.6" r="11.0"/>
<circle cx="1066.4" cy="270.0" r="10.9"/>
<circle cx="1067.1" cy="266.0" r="10.9"/>
<circle cx="1067.9" cy="266.3" r="9.0"/>
<circle cx="1068.7" cy="267.4" r="10.0"/>
<circle cx="1134.7" cy="154.8" r="10.3"/>
<circle cx="1135.4" cy="149.8" r="9.8"/>
<circle cx="1136.2" cy="146.6" r="11.0"/>
<circle cx="1137.0" cy="143.1" r="9.9"/>
<circle cx="1137.7" cy="139.2" r="11.1"/>
<circle cx="1138.5" cy="137.9" r="10.5"/>
<circle cx="1139.3" cy="135.6" r="10.8"/>
<circle cx="1140.1" cy="131.6" r="9.5"/>
<circle cx="1140.8" cy="125.2" r="10.1"/>
<circle cx="1141.6" cy="130.5" r="9.6"/>
<circle cx="1142.4" cy="136.6" r="10.2"/>
<circle cx="1143.1" cy="142.0" r="10.4"/>
<circle cx="1143.9" cy="172.7" r="10.7"/>
<circle cx="1144.7" cy="160.6" r="10.1"/>
<circle cx="1145.4" cy="153.7" r="10.2"/>
<circle cx="1146.2" cy="152.7" r="10.3"/>
<circle cx="1147.0" cy="155.4" r="10.6"/>
<circle cx="1147.7" cy="163.1" r="10.4"/>
<circle cx="1148.5" cy="169.4" r="10.0"/>
<circle cx="1149.3" cy="173.3" r="11.4"/>
<circle cx="1150.0" cy="168.9" r="11.2"/>
<circle cx="1150.8" cy="171.0" r="10.5"/>
<circle cx="1151.6" cy="171.8" r="11.5"/>
<circle cx="1152.3" cy="170.2" r="10.1"/>
<circle cx="1153.1" cy="167.8" r="10.0"/>
<circle cx="1153.9" cy="165.5" r="10.7"/>
<circle cx="1154.6" cy="167.2" r="9.8"/>
<circle cx="1155.4" cy="162.0" r="9.7"/>
<circle cx="1156.2" cy="160.2" r="10.9"/>
<circle cx="1156.9" cy="156.0" r="10.2"/>
<circle cx="1157.7" cy="164.5" r="11.3"/>
<circle cx="1158.5" cy="169.6" r="10.5"/>
<circle cx="1159.2" cy="175.2" r="10.3"/>
<circle cx="1160.0" cy="170.9" r="10.0"/>
<circle cx="1160.8" cy="171.1" r="10.6"/>
<circle cx="1161.5" cy="169.0" r="10.8"/>
<circle cx="1162.3" cy="188.0" r="10.4"/>
<circle cx="1163.1" cy="209.4" r="9.7"/>
<circle cx="1163.9" cy="210.5" r="10.8"/>
<circle cx="1164.6" cy="207.3" r="11.4"/>
<circle cx="1165.4" cy="199.5" r="10.1"/>
<circle cx="58.0" cy="154.0" r="7.5"/>
</g>
<g fill="#c5e07a" fill-opacity="0.88">
<circle cx="421.5" cy="369.1" r="11.2"/>
<circle cx="422.3" cy="366.3" r="12.0"/>
<circle cx="423.0" cy="358.0" r="10.1"/>
<circle cx="423.8" cy="354.0" r="9.5"/>
<circle cx="424.6" cy="355.4" r="9.6"/>
<circle cx="425.3" cy="352.7" r="10.3"/>
<circle cx="426.1" cy="358.0" r="9.9"/>
<circle cx="426.9" cy="354.0" r="11.9"/>
</g>
<g fill="#e02b26" fill-opacity="0.80">
<circle cx="96.0" cy="199.9" r="12.2"/>
<circle cx="96.7" cy="203.8" r="13.0"/>
<circle cx="99.1" cy="219.0" r="12.4"/>
<circle cx="99.8" cy="231.5" r="12.7"/>
<circle cx="100.6" cy="231.4" r="12.9"/>
<circle cx="101.4" cy="269.0" r="13.7"/>
<circle cx="102.1" cy="284.4" r="12.0"/>
<circle cx="102.9" cy="280.5" r="11.9"/>
<circle cx="103.7" cy="280.4" r="13.8"/>
<circle cx="104.4" cy="280.3" r="12.0"/>
<circle cx="105.2" cy="283.5" r="13.3"/>
<circle cx="106.0" cy="282.4" r="13.9"/>
<circle cx="106.7" cy="274.0" r="13.7"/>
<circle cx="107.5" cy="263.8" r="13.0"/>
<circle cx="108.3" cy="264.6" r="11.6"/>
<circle cx="109.0" cy="257.3" r="13.9"/>
<circle cx="109.8" cy="250.6" r="12.1"/>
<circle cx="110.6" cy="245.7" r="13.6"/>
<circle cx="111.3" cy="241.0" r="13.0"/>
<circle cx="112.1" cy="232.9" r="12.2"/>
<circle cx="112.9" cy="226.9" r="11.7"/>
<circle cx="113.6" cy="220.9" r="12.1"/>
<circle cx="114.4" cy="220.5" r="12.9"/>
<circle cx="115.2" cy="214.6" r="12.2"/>
<circle cx="115.9" cy="213.1" r="13.8"/>
<circle cx="116.7" cy="224.2" r="12.0"/>
<circle cx="117.5" cy="227.5" r="12.6"/>
<circle cx="118.2" cy="237.8" r="11.7"/>
<circle cx="119.0" cy="230.8" r="11.9"/>
<circle cx="119.8" cy="226.6" r="11.8"/>
<circle cx="120.5" cy="217.5" r="12.4"/>
<circle cx="121.3" cy="225.7" r="13.7"/>
<circle cx="122.1" cy="235.0" r="13.2"/>
<circle cx="122.8" cy="249.4" r="13.0"/>
<circle cx="123.6" cy="256.1" r="11.9"/>
<circle cx="124.4" cy="261.4" r="13.8"/>
<circle cx="125.2" cy="268.1" r="13.3"/>
<circle cx="125.9" cy="267.5" r="13.9"/>
<circle cx="126.7" cy="267.2" r="11.6"/>
<circle cx="127.5" cy="265.3" r="13.1"/>
<circle cx="128.2" cy="262.7" r="12.3"/>
<circle cx="129.0" cy="251.1" r="14.0"/>
<circle cx="129.8" cy="241.7" r="13.3"/>
<circle cx="130.5" cy="237.8" r="13.8"/>
<circle cx="131.3" cy="233.7" r="13.3"/>
<circle cx="132.1" cy="242.2" r="13.3"/>
<circle cx="132.8" cy="252.0" r="12.4"/>
<circle cx="133.6" cy="263.5" r="13.2"/>
<circle cx="211.9" cy="446.9" r="10.6"/>
<circle cx="212.7" cy="442.6" r="12.5"/>
<circle cx="213.4" cy="476.9" r="10.7"/>
<circle cx="214.2" cy="472.7" r="12.5"/>
<circle cx="215.0" cy="494.0" r="10.9"/>
<circle cx="215.7" cy="463.9" r="11.3"/>
<circle cx="216.5" cy="463.9" r="12.5"/>
<circle cx="217.3" cy="464.6" r="10.9"/>
<circle cx="218.0" cy="480.5" r="10.9"/>
<circle cx="218.8" cy="460.6" r="11.8"/>
<circle cx="219.6" cy="443.9" r="12.3"/>
<circle cx="220.3" cy="440.7" r="12.6"/>
<circle cx="221.1" cy="449.2" r="12.2"/>
<circle cx="221.9" cy="450.4" r="12.9"/>
<circle cx="222.7" cy="460.4" r="11.7"/>
<circle cx="223.4" cy="470.1" r="12.9"/>
<circle cx="224.2" cy="476.3" r="10.7"/>
<circle cx="225.0" cy="478.7" r="11.1"/>
<circle cx="225.7" cy="477.2" r="11.8"/>
<circle cx="226.5" cy="475.6" r="11.2"/>
<circle cx="227.3" cy="458.9" r="12.3"/>
<circle cx="228.0" cy="462.5" r="12.1"/>
<circle cx="228.8" cy="451.8" r="11.8"/>
<circle cx="229.6" cy="441.8" r="12.6"/>
<circle cx="230.3" cy="444.7" r="11.9"/>
<circle cx="231.1" cy="445.9" r="11.3"/>
<circle cx="231.9" cy="455.4" r="11.5"/>
<circle cx="232.6" cy="470.3" r="12.6"/>
<circle cx="233.4" cy="483.5" r="12.8"/>
<circle cx="234.2" cy="466.9" r="11.0"/>
<circle cx="234.9" cy="450.8" r="12.6"/>
<circle cx="235.7" cy="442.6" r="12.9"/>
<circle cx="236.5" cy="420.7" r="11.8"/>
<circle cx="237.2" cy="423.2" r="11.9"/>
<circle cx="367.0" cy="441.7" r="8.8"/>
<circle cx="367.7" cy="440.4" r="8.6"/>
<circle cx="368.5" cy="437.4" r="8.6"/>
<circle cx="369.3" cy="439.7" r="9.3"/>
<circle cx="370.0" cy="437.0" r="8.7"/>
<circle cx="370.8" cy="435.5" r="8.9"/>
<circle cx="371.6" cy="431.8" r="8.8"/>
<circle cx="372.4" cy="425.3" r="9.2"/>
<circle cx="581.2" cy="374.8" r="8.0"/>
<circle cx="987.3" cy="321.1" r="9.1"/>
<circle cx="988.0" cy="320.0" r="9.3"/>
<circle cx="988.8" cy="316.9" r="9.9"/>
<circle cx="989.6" cy="319.5" r="9.2"/>
<circle cx="990.4" cy="318.4" r="9.4"/>
<circle cx="991.1" cy="327.3" r="9.1"/>
<circle cx="991.9" cy="329.9" r="9.9"/>
<circle cx="992.7" cy="335.0" r="9.4"/>
<circle cx="993.4" cy="339.9" r="9.4"/>
<circle cx="994.2" cy="343.2" r="9.7"/>
<circle cx="995.0" cy="344.7" r="9.7"/>
<circle cx="995.7" cy="350.1" r="9.4"/>
<circle cx="138.0" cy="236.0" r="7.5"/>
</g>
<line x1="30" x2="1168" y1="656.5" y2="656.5" stroke="#474752" stroke-width="1"/>
<line x1="1174.5" x2="1174.5" y1="99" y2="657" stroke="#474752" stroke-width="1"/>
<line x1="86.0" x2="86.0" y1="657" y2="664" stroke="#2f2f39" stroke-width="1"/>
<text x="59.8" y="680.5" font-size="14" fill="#a6a6b0" textLength="54.0" lengthAdjust="spacingAndGlyphs">2022 Jan</text>
<line x1="178.0" x2="178.0" y1="657" y2="664" stroke="#2f2f39" stroke-width="1"/>
<text x="150.3" y="680.5" font-size="14" fill="#a6a6b0" textLength="57.0" lengthAdjust="spacingAndGlyphs">2022 May</text>
<line x1="272.5" x2="272.5" y1="657" y2="664" stroke="#2f2f39" stroke-width="1"/>
<text x="245.6" y="680.5" font-size="14" fill="#a6a6b0" textLength="55.5" lengthAdjust="spacingAndGlyphs">2022 Sep</text>
<line x1="366.0" x2="366.0" y1="657" y2="664" stroke="#2f2f39" stroke-width="1"/>
<text x="339.8" y="680.5" font-size="14" fill="#a6a6b0" textLength="54.0" lengthAdjust="spacingAndGlyphs">2023 Jan</text>
<line x1="458.0" x2="458.0" y1="657" y2="664" stroke="#2f2f39" stroke-width="1"/>
<text x="430.3" y="680.5" font-size="14" fill="#a6a6b0" textLength="57.0" lengthAdjust="spacingAndGlyphs">2023 May</text>
<line x1="553.0" x2="553.0" y1="657" y2="664" stroke="#2f2f39" stroke-width="1"/>
<text x="526.0" y="680.5" font-size="14" fill="#a6a6b0" textLength="55.5" lengthAdjust="spacingAndGlyphs">2023 Sep</text>
<line x1="646.0" x2="646.0" y1="657" y2="664" stroke="#2f2f39" stroke-width="1"/>
<text x="619.8" y="680.5" font-size="14" fill="#a6a6b0" textLength="54.0" lengthAdjust="spacingAndGlyphs">2024 Jan</text>
<line x1="739.0" x2="739.0" y1="657" y2="664" stroke="#2f2f39" stroke-width="1"/>
<text x="711.3" y="680.5" font-size="14" fill="#a6a6b0" textLength="57.0" lengthAdjust="spacingAndGlyphs">2024 May</text>
<line x1="834.0" x2="834.0" y1="657" y2="664" stroke="#2f2f39" stroke-width="1"/>
<text x="807.0" y="680.5" font-size="14" fill="#a6a6b0" textLength="55.5" lengthAdjust="spacingAndGlyphs">2024 Sep</text>
<line x1="927.0" x2="927.0" y1="657" y2="664" stroke="#2f2f39" stroke-width="1"/>
<text x="900.8" y="680.5" font-size="14" fill="#a6a6b0" textLength="54.0" lengthAdjust="spacingAndGlyphs">2025 Jan</text>
<line x1="1019.0" x2="1019.0" y1="657" y2="664" stroke="#2f2f39" stroke-width="1"/>
<text x="991.3" y="680.5" font-size="14" fill="#a6a6b0" textLength="57.0" lengthAdjust="spacingAndGlyphs">2025 May</text>
<line x1="1114.0" x2="1114.0" y1="657" y2="664" stroke="#2f2f39" stroke-width="1"/>
<text x="1087.0" y="680.5" font-size="14" fill="#a6a6b0" textLength="55.5" lengthAdjust="spacingAndGlyphs">2025 Sep</text>
<text x="1187" y="116.4" font-size="16" fill="#f2f2f2">$5K</text>
<text x="1187" y="141.4" font-size="16" fill="#f2f2f2">$4.5K</text>
<text x="1187" y="169.3" font-size="16" fill="#f2f2f2">$4K</text>
<text x="1187" y="200.9" font-size="16" fill="#f2f2f2">$3.5K</text>
<text x="1187" y="237.4" font-size="16" fill="#f2f2f2">$3K</text>
<text x="1187" y="280.6" font-size="16" fill="#f2f2f2">$2.5K</text>
<text x="1187" y="333.5" font-size="16" fill="#f2f2f2">$2K</text>
<text x="1187" y="401.6" font-size="16" fill="#f2f2f2">$1.5K</text>
<text x="1187" y="497.7" font-size="16" fill="#f2f2f2">$1K</text>
<text x="1187" y="661.9" font-size="16" fill="#f2f2f2">$500</text>
<text transform="translate(1237,378) rotate(90)" text-anchor="middle" font-size="16" fill="#f2f2f2">Price</text>
<text x="640" y="46" text-anchor="middle" font-size="25" font-weight="bold" fill="#ffffff" stroke="#ffffff" stroke-width="0.35" textLength="416" lengthAdjust="spacingAndGlyphs">Ethereum: Spot Average Order Size</text>
<circle cx="374" cy="73" r="2.6" fill="#767788"/>
<text x="388" y="78" font-size="16" fill="#f2f2f2" textLength="51" lengthAdjust="spacingAndGlyphs">Normal</text>
<circle cx="467" cy="73" r="2.6" fill="#3ba324"/>
<text x="481" y="78" font-size="16" fill="#f2f2f2" textLength="122" lengthAdjust="spacingAndGlyphs">Big Whale Orders</text>
<circle cx="631" cy="73" r="2.6" fill="#94b35a"/>
<text x="645" y="78" font-size="16" fill="#f2f2f2" textLength="138" lengthAdjust="spacingAndGlyphs">Small Whale Orders</text>
<circle cx="810" cy="73" r="2.6" fill="#cc2a2a"/>
<text x="824" y="78" font-size="16" fill="#f2f2f2" textLength="91" lengthAdjust="spacingAndGlyphs">Retail Orders</text>
<text x="1248" y="702" text-anchor="end" font-size="11" fill="#8c8c96" textLength="160" lengthAdjust="spacingAndGlyphs">© CryptoQuant. All rights reserved</text>
</svg></body></html>
